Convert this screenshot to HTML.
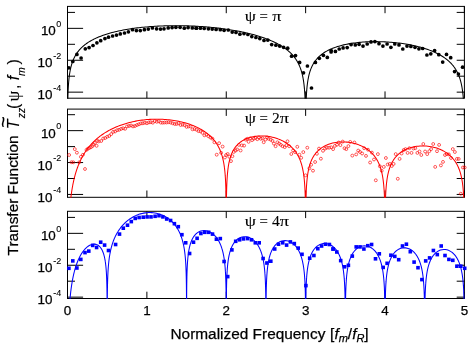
<!DOCTYPE html>
<html><head><meta charset="utf-8"><style>
html,body{margin:0;padding:0;background:#fff}
body{width:471px;height:344px;position:relative;overflow:hidden}
text{font-family:"Liberation Sans",sans-serif;fill:#000;stroke:#000;stroke-width:0.25px}
.tl{font-size:13.4px}
.sup{font-size:9px;stroke-width:0.1px}
.ax{font-size:15.4px}
.mm{font-size:16px}
.mm text{stroke-width:0.12px}
.ti text{font-family:"Liberation Serif",serif;font-size:15.5px;stroke-width:0.12px}
</style></head><body>
<svg width="471" height="344" viewBox="0 0 471 344" style="position:absolute;left:0;top:0;will-change:transform">
<rect width="471" height="344" fill="#fff"/>
<clipPath id="c0"><rect x="67.00" y="6.40" width="397.90" height="92.30"/></clipPath>
<path d="M67.50 12.40 h7.5 M464.40 12.40 h-7.7 M67.50 28.35 h15.6 M464.40 28.35 h-7.7 M67.50 44.30 h7.5 M464.40 44.30 h-7.7 M67.50 60.25 h15.6 M464.40 60.25 h-7.7 M67.50 76.20 h7.5 M464.40 76.20 h-7.7 M67.50 92.15 h15.6 M464.40 92.15 h-7.7 M67.50 6.40 v6.8 M67.50 98.20 v-6.8 M146.88 6.40 v6.8 M146.88 98.20 v-6.8 M226.26 6.40 v6.8 M226.26 98.20 v-6.8 M305.64 6.40 v6.8 M305.64 98.20 v-6.8 M385.02 6.40 v6.8 M385.02 98.20 v-6.8 M464.40 6.40 v6.8 M464.40 98.20 v-6.8" stroke="#000" stroke-width="1" fill="none"/>
<rect x="67.50" y="6.40" width="396.90" height="91.80" fill="none" stroke="#000" stroke-width="1"/>
<path clip-path="url(#c0)" d="M67.50 102.20L67.70 102.20L67.75 102.20L67.76 102.20L67.77 102.20L67.77 102.14L67.78 101.83L67.79 101.53L67.80 100.94L67.81 100.37L67.82 99.83L67.83 99.31L67.85 98.80L67.86 98.32L67.87 97.85L67.88 97.39L67.90 96.95L67.91 96.53L67.92 96.11L67.93 95.71L67.95 95.32L67.96 94.94L67.97 94.57L67.98 94.21L68.00 93.86L68.01 93.52L68.02 93.18L68.03 92.86L68.05 92.54L68.06 92.23L68.07 91.92L68.10 91.33L68.12 90.77L68.14 90.23L68.17 89.70L68.19 89.20L68.22 88.71L68.24 88.24L68.27 87.79L68.29 87.35L68.32 86.92L68.34 86.51L68.37 86.11L68.39 85.72L68.42 85.34L68.44 84.97L68.47 84.61L68.49 84.26L68.52 83.92L68.54 83.58L68.57 83.26L68.59 82.94L68.62 82.63L68.64 82.32L68.69 81.73L68.74 81.17L68.79 80.62L68.84 80.10L68.89 79.60L68.94 79.11L68.99 78.64L69.04 78.19L69.09 77.75L69.14 77.32L69.19 76.91L69.24 76.51L69.29 76.12L69.34 75.74L69.39 75.37L69.43 75.01L69.48 74.66L69.53 74.31L69.58 73.98L69.63 73.65L69.68 73.34L69.73 73.03L69.78 72.72L69.88 72.13L69.98 71.57L70.08 71.02L70.18 70.50L70.28 70.00L70.38 69.51L70.48 69.04L70.58 68.59L70.68 68.15L70.77 67.72L70.87 67.31L70.97 66.91L71.07 66.52L71.17 66.14L71.27 65.77L71.37 65.41L71.47 65.06L71.57 64.72L71.67 64.38L71.77 64.06L71.87 63.74L71.97 63.43L72.06 63.13L72.26 62.54L72.46 61.97L72.66 61.43L72.86 60.91L73.06 60.41L73.26 59.92L73.45 59.45L73.65 59.00L73.85 58.56L74.05 58.14L74.25 57.72L74.45 57.32L74.64 56.93L74.84 56.56L75.04 56.19L75.24 55.83L75.44 55.48L75.64 55.14L75.83 54.81L76.03 54.48L76.23 54.17L76.43 53.86L76.63 53.56L77.03 52.97L77.42 52.41L77.82 51.87L78.22 51.35L78.61 50.85L79.01 50.37L79.41 49.90L79.80 49.45L80.20 49.02L80.60 48.60L80.99 48.19L81.39 47.79L81.79 47.41L82.19 47.04L82.58 46.67L82.98 46.32L83.38 45.98L83.77 45.64L84.17 45.31L84.57 44.99L84.96 44.68L85.36 44.38L85.76 44.08L86.55 43.51L87.34 42.96L88.14 42.43L88.93 41.92L89.73 41.44L90.52 40.97L91.31 40.52L92.11 40.09L92.90 39.67L93.70 39.26L94.49 38.87L95.28 38.49L96.08 38.12L96.87 37.77L97.66 37.42L98.46 37.09L99.25 36.76L100.05 36.45L100.84 36.14L102.43 35.55L104.01 35.00L105.60 34.47L107.19 33.97L108.78 33.49L110.37 33.04L111.95 32.61L113.54 32.20L115.13 31.80L116.72 31.43L118.30 31.08L119.89 30.74L121.48 30.41L123.07 30.10L124.65 29.81L126.24 29.52L127.83 29.26L129.42 29.00L131.00 28.76L132.59 28.52L134.18 28.30L135.77 28.09L137.35 27.89L138.94 27.70L140.53 27.52L142.12 27.35L143.70 27.19L145.29 27.04L146.88 26.90L148.47 26.76L150.06 26.64L151.64 26.52L153.23 26.41L154.82 26.31L156.41 26.21L157.99 26.13L159.58 26.05L161.17 25.98L162.76 25.92L164.34 25.86L165.93 25.81L167.52 25.77L169.11 25.74L170.69 25.71L172.28 25.69L173.87 25.68L175.46 25.67L177.04 25.68L178.63 25.68L180.22 25.70L181.81 25.72L183.39 25.75L184.98 25.78L186.57 25.82L188.16 25.87L189.75 25.93L191.33 25.99L192.92 26.06L194.51 26.13L196.10 26.22L197.68 26.31L199.27 26.40L200.86 26.51L202.45 26.62L204.03 26.73L205.62 26.86L207.21 26.99L208.80 27.13L210.38 27.27L211.97 27.43L213.56 27.59L215.15 27.76L216.73 27.93L218.32 28.12L219.91 28.31L221.50 28.51L223.08 28.72L224.67 28.94L226.26 29.17L227.85 29.40L229.44 29.65L231.02 29.90L232.61 30.16L234.20 30.44L235.79 30.72L237.37 31.01L238.96 31.32L240.55 31.63L242.14 31.96L243.72 32.30L245.31 32.65L246.90 33.01L248.49 33.39L250.07 33.78L251.66 34.19L253.25 34.61L254.84 35.05L256.42 35.50L258.01 35.97L259.60 36.46L261.19 36.97L262.77 37.50L264.36 38.05L265.95 38.63L266.74 38.93L267.54 39.23L268.33 39.54L269.13 39.86L269.92 40.18L270.71 40.52L271.51 40.86L272.30 41.21L273.09 41.56L273.89 41.93L274.68 42.31L275.48 42.69L276.27 43.09L277.06 43.50L277.86 43.91L278.65 44.35L279.44 44.79L280.24 45.25L281.03 45.72L281.83 46.21L282.62 46.71L283.41 47.23L284.21 47.77L285.00 48.33L285.79 48.91L286.19 49.20L286.59 49.51L286.99 49.82L287.38 50.14L287.78 50.46L288.18 50.79L288.57 51.13L288.97 51.48L289.37 51.83L289.76 52.19L290.16 52.56L290.56 52.94L290.95 53.33L291.35 53.74L291.75 54.15L292.15 54.57L292.54 55.01L292.94 55.45L293.34 55.92L293.73 56.39L294.13 56.89L294.53 57.39L294.92 57.92L295.32 58.47L295.72 59.03L296.11 59.62L296.31 59.93L296.51 60.24L296.71 60.55L296.91 60.88L297.11 61.21L297.31 61.55L297.50 61.89L297.70 62.25L297.90 62.61L298.10 62.98L298.30 63.36L298.50 63.76L298.69 64.16L298.89 64.57L299.09 65.00L299.29 65.44L299.49 65.89L299.69 66.36L299.88 66.84L300.08 67.34L300.28 67.86L300.48 68.39L300.68 68.95L300.88 69.53L300.98 69.83L301.08 70.13L301.17 70.44L301.27 70.76L301.37 71.08L301.47 71.42L301.57 71.76L301.67 72.11L301.77 72.46L301.87 72.83L301.97 73.21L302.07 73.59L302.17 73.99L302.27 74.40L302.37 74.82L302.46 75.25L302.56 75.70L302.66 76.16L302.76 76.64L302.86 77.13L302.96 77.64L303.06 78.17L303.16 78.72L303.26 79.29L303.36 79.89L303.41 80.20L303.46 80.51L303.51 80.83L303.56 81.16L303.61 81.50L303.66 81.84L303.71 82.20L303.75 82.56L303.80 82.94L303.85 83.32L303.90 83.71L303.95 84.12L304.00 84.53L304.05 84.96L304.10 85.41L304.15 85.87L304.20 86.34L304.25 86.83L304.30 87.34L304.35 87.86L304.40 88.41L304.45 88.98L304.50 89.57L304.52 89.88L304.55 90.19L304.57 90.51L304.60 90.84L304.62 91.17L304.65 91.52L304.67 91.87L304.70 92.23L304.72 92.60L304.75 92.98L304.77 93.38L304.80 93.78L304.82 94.20L304.85 94.62L304.87 95.07L304.90 95.52L304.92 95.99L304.95 96.48L304.97 96.99L305.00 97.51L305.02 98.06L305.04 98.62L305.07 99.21L305.08 99.52L305.09 99.83L305.11 100.15L305.12 100.48L305.13 100.81L305.14 101.16L305.16 101.51L305.17 101.87L305.18 102.20L305.19 102.20L305.24 102.20L305.64 102.20L306.04 102.20L306.09 102.20L306.10 102.20L306.11 101.94L306.12 101.58L306.14 101.23L306.15 100.89L306.16 100.55L306.17 100.23L306.19 99.91L306.20 99.60L306.21 99.30L306.24 98.71L306.26 98.15L306.28 97.60L306.31 97.08L306.33 96.58L306.36 96.10L306.38 95.63L306.41 95.18L306.43 94.74L306.46 94.31L306.48 93.90L306.51 93.50L306.53 93.11L306.56 92.74L306.58 92.37L306.61 92.01L306.63 91.66L306.66 91.32L306.68 90.99L306.71 90.67L306.73 90.35L306.76 90.04L306.78 89.74L306.83 89.15L306.88 88.59L306.93 88.05L306.98 87.53L307.03 87.03L307.08 86.55L307.13 86.08L307.18 85.63L307.23 85.20L307.28 84.77L307.33 84.36L307.38 83.96L307.43 83.58L307.48 83.20L307.53 82.84L307.57 82.48L307.62 82.13L307.67 81.80L307.72 81.47L307.77 81.14L307.82 80.83L307.87 80.52L307.92 80.22L308.02 79.64L308.12 79.08L308.22 78.54L308.32 78.03L308.42 77.53L308.52 77.05L308.62 76.59L308.72 76.15L308.82 75.71L308.91 75.29L309.01 74.89L309.11 74.49L309.21 74.11L309.31 73.74L309.41 73.38L309.51 73.03L309.61 72.68L309.71 72.35L309.81 72.02L309.91 71.70L310.01 71.39L310.11 71.09L310.20 70.79L310.40 70.22L310.60 69.67L310.80 69.14L311.00 68.64L311.20 68.15L311.40 67.68L311.59 67.22L311.79 66.79L311.99 66.36L312.19 65.95L312.39 65.55L312.59 65.17L312.78 64.80L312.98 64.43L313.18 64.08L313.38 63.74L313.58 63.40L313.78 63.08L313.97 62.76L314.17 62.45L314.37 62.15L314.77 61.57L315.17 61.01L315.56 60.48L315.96 59.97L316.36 59.48L316.75 59.01L317.15 58.56L317.55 58.13L317.94 57.71L318.34 57.31L318.74 56.91L319.13 56.54L319.53 56.17L319.93 55.82L320.33 55.48L320.72 55.14L321.12 54.82L321.52 54.51L322.31 53.91L323.10 53.34L323.90 52.80L324.69 52.29L325.49 51.81L326.28 51.34L327.07 50.90L327.87 50.48L328.66 50.08L329.45 49.69L330.25 49.33L331.04 48.97L331.84 48.63L332.63 48.31L333.42 48.00L334.22 47.70L335.80 47.13L337.39 46.61L338.98 46.13L340.57 45.68L342.15 45.27L343.74 44.88L345.33 44.53L346.92 44.20L348.51 43.89L350.09 43.61L351.68 43.35L353.27 43.12L354.86 42.90L356.44 42.70L358.03 42.53L359.62 42.37L361.21 42.22L362.79 42.10L364.38 41.98L365.97 41.89L367.56 41.81L369.14 41.74L370.73 41.69L372.32 41.66L373.91 41.64L375.49 41.63L377.08 41.63L378.67 41.65L380.26 41.68L381.84 41.73L383.43 41.79L385.02 41.86L386.61 41.95L388.20 42.04L389.78 42.16L391.37 42.28L392.96 42.42L394.55 42.57L396.13 42.74L397.72 42.92L399.31 43.11L400.90 43.32L402.48 43.54L404.07 43.78L405.66 44.03L407.25 44.30L408.83 44.58L410.42 44.89L412.01 45.21L413.60 45.54L415.18 45.90L416.77 46.28L418.36 46.67L419.95 47.09L421.53 47.53L423.12 48.00L424.71 48.49L426.30 49.00L427.89 49.55L429.47 50.13L430.27 50.43L431.06 50.74L431.85 51.05L432.65 51.38L433.44 51.72L434.24 52.07L435.03 52.43L435.82 52.80L436.62 53.18L437.41 53.57L438.20 53.98L439.00 54.40L439.79 54.84L440.59 55.29L441.38 55.75L442.17 56.24L442.97 56.74L443.76 57.27L444.55 57.81L445.35 58.38L446.14 58.98L446.54 59.29L446.94 59.60L447.33 59.92L447.73 60.25L448.13 60.59L448.52 60.93L448.92 61.29L449.32 61.65L449.71 62.03L450.11 62.41L450.51 62.81L450.91 63.22L451.30 63.64L451.70 64.07L452.10 64.52L452.49 64.98L452.89 65.45L453.29 65.95L453.68 66.46L454.08 66.99L454.48 67.54L454.87 68.11L455.27 68.71L455.47 69.02L455.67 69.34L455.87 69.66L456.07 69.99L456.26 70.33L456.46 70.68L456.66 71.03L456.86 71.40L457.06 71.77L457.26 72.16L457.45 72.55L457.65 72.96L457.85 73.38L458.05 73.81L458.25 74.25L458.45 74.71L458.64 75.19L458.84 75.68L459.04 76.19L459.24 76.72L459.44 77.27L459.64 77.84L459.84 78.44L459.93 78.74L460.03 79.06L460.13 79.38L460.23 79.71L460.33 80.04L460.43 80.39L460.53 80.74L460.63 81.11L460.73 81.48L460.83 81.86L460.93 82.26L461.03 82.66L461.13 83.08L461.22 83.51L461.32 83.95L461.42 84.41L461.52 84.88L461.62 85.37L461.72 85.88L461.82 86.40L461.92 86.95L462.02 87.52L462.12 88.11L462.17 88.42L462.22 88.73L462.27 89.05L462.32 89.38L462.37 89.71L462.42 90.06L462.47 90.41L462.51 90.77L462.56 91.14L462.61 91.52L462.66 91.92L462.71 92.32L462.76 92.74L462.81 93.16L462.86 93.60L462.91 94.06L462.96 94.53L463.01 95.02L463.06 95.53L463.11 96.05L463.16 96.60L463.21 97.16L463.26 97.75L463.28 98.06L463.31 98.37L463.33 98.69L463.36 99.02L463.38 99.35L463.41 99.70L463.43 100.05L463.46 100.41L463.48 100.78L463.51 101.16L463.53 101.55L463.56 101.95L463.58 102.20L463.61 102.20L464.40 102.20" fill="none" stroke="#000" stroke-width="1.05" stroke-linejoin="round"/>
<circle cx="68.9" cy="67.8" r="1.85" fill="#000"/>
<circle cx="72.8" cy="61.5" r="1.85" fill="#000"/>
<circle cx="76.9" cy="54.4" r="1.85" fill="#000"/>
<circle cx="81.1" cy="58.0" r="1.85" fill="#000"/>
<circle cx="85.3" cy="48.8" r="1.85" fill="#000"/>
<circle cx="89.1" cy="47.6" r="1.85" fill="#000"/>
<circle cx="93.0" cy="45.5" r="1.85" fill="#000"/>
<circle cx="96.9" cy="42.8" r="1.85" fill="#000"/>
<circle cx="100.7" cy="40.7" r="1.85" fill="#000"/>
<circle cx="104.9" cy="38.6" r="1.85" fill="#000"/>
<circle cx="108.5" cy="37.2" r="1.85" fill="#000"/>
<circle cx="112.6" cy="36.0" r="1.85" fill="#000"/>
<circle cx="116.5" cy="35.1" r="1.85" fill="#000"/>
<circle cx="120.3" cy="33.9" r="1.85" fill="#000"/>
<circle cx="124.5" cy="33.0" r="1.85" fill="#000"/>
<circle cx="128.4" cy="31.8" r="1.85" fill="#000"/>
<circle cx="132.5" cy="29.7" r="1.85" fill="#000"/>
<circle cx="136.4" cy="30.6" r="1.85" fill="#000"/>
<circle cx="140.3" cy="30.6" r="1.85" fill="#000"/>
<circle cx="144.4" cy="29.7" r="1.85" fill="#000"/>
<circle cx="148.3" cy="29.1" r="1.85" fill="#000"/>
<circle cx="152.4" cy="27.9" r="1.85" fill="#000"/>
<circle cx="156.6" cy="28.8" r="1.85" fill="#000"/>
<circle cx="160.5" cy="29.1" r="1.85" fill="#000"/>
<circle cx="164.0" cy="28.8" r="1.85" fill="#000"/>
<circle cx="168.2" cy="27.9" r="1.85" fill="#000"/>
<circle cx="172.1" cy="27.6" r="1.85" fill="#000"/>
<circle cx="175.9" cy="27.3" r="1.85" fill="#000"/>
<circle cx="180.1" cy="27.3" r="1.85" fill="#000"/>
<circle cx="184.3" cy="28.2" r="1.85" fill="#000"/>
<circle cx="188.1" cy="27.6" r="1.85" fill="#000"/>
<circle cx="192.3" cy="27.9" r="1.85" fill="#000"/>
<circle cx="196.1" cy="28.2" r="1.85" fill="#000"/>
<circle cx="196.5" cy="28.2" r="1.85" fill="#000"/>
<circle cx="200.4" cy="28.2" r="1.85" fill="#000"/>
<circle cx="204.2" cy="28.5" r="1.85" fill="#000"/>
<circle cx="208.4" cy="28.8" r="1.85" fill="#000"/>
<circle cx="212.2" cy="29.1" r="1.85" fill="#000"/>
<circle cx="216.1" cy="29.4" r="1.85" fill="#000"/>
<circle cx="220.3" cy="29.7" r="1.85" fill="#000"/>
<circle cx="224.1" cy="30.3" r="1.85" fill="#000"/>
<circle cx="228.3" cy="30.0" r="1.85" fill="#000"/>
<circle cx="232.2" cy="32.1" r="1.85" fill="#000"/>
<circle cx="236.0" cy="32.4" r="1.85" fill="#000"/>
<circle cx="239.9" cy="34.2" r="1.85" fill="#000"/>
<circle cx="244.0" cy="33.6" r="1.85" fill="#000"/>
<circle cx="247.9" cy="34.5" r="1.85" fill="#000"/>
<circle cx="251.8" cy="36.6" r="1.85" fill="#000"/>
<circle cx="255.9" cy="37.5" r="1.85" fill="#000"/>
<circle cx="259.8" cy="38.6" r="1.85" fill="#000"/>
<circle cx="264.0" cy="40.4" r="1.85" fill="#000"/>
<circle cx="267.8" cy="40.1" r="1.85" fill="#000"/>
<circle cx="271.7" cy="44.6" r="1.85" fill="#000"/>
<circle cx="275.9" cy="45.2" r="1.85" fill="#000"/>
<circle cx="279.7" cy="46.1" r="1.85" fill="#000"/>
<circle cx="283.6" cy="47.3" r="1.85" fill="#000"/>
<circle cx="287.7" cy="48.2" r="1.85" fill="#000"/>
<circle cx="291.6" cy="56.2" r="1.85" fill="#000"/>
<circle cx="295.5" cy="55.6" r="1.85" fill="#000"/>
<circle cx="299.6" cy="62.4" r="1.85" fill="#000"/>
<circle cx="303.5" cy="72.8" r="1.85" fill="#000"/>
<circle cx="307.4" cy="66.0" r="1.85" fill="#000"/>
<circle cx="311.5" cy="88.0" r="1.85" fill="#000"/>
<circle cx="315.4" cy="62.4" r="1.85" fill="#000"/>
<circle cx="319.3" cy="58.3" r="1.85" fill="#000"/>
<circle cx="323.4" cy="55.3" r="1.85" fill="#000"/>
<circle cx="327.3" cy="57.4" r="1.85" fill="#000"/>
<circle cx="331.1" cy="52.0" r="1.85" fill="#000"/>
<circle cx="331.2" cy="50.5" r="1.85" fill="#000"/>
<circle cx="335.4" cy="51.4" r="1.85" fill="#000"/>
<circle cx="339.2" cy="49.0" r="1.85" fill="#000"/>
<circle cx="343.1" cy="47.9" r="1.85" fill="#000"/>
<circle cx="347.2" cy="47.6" r="1.85" fill="#000"/>
<circle cx="351.1" cy="44.6" r="1.85" fill="#000"/>
<circle cx="355.3" cy="44.9" r="1.85" fill="#000"/>
<circle cx="359.1" cy="44.3" r="1.85" fill="#000"/>
<circle cx="363.0" cy="46.1" r="1.85" fill="#000"/>
<circle cx="367.2" cy="44.0" r="1.85" fill="#000"/>
<circle cx="371.0" cy="41.9" r="1.85" fill="#000"/>
<circle cx="374.9" cy="41.6" r="1.85" fill="#000"/>
<circle cx="379.0" cy="43.7" r="1.85" fill="#000"/>
<circle cx="382.9" cy="46.1" r="1.85" fill="#000"/>
<circle cx="387.1" cy="44.0" r="1.85" fill="#000"/>
<circle cx="390.9" cy="47.3" r="1.85" fill="#000"/>
<circle cx="394.8" cy="44.0" r="1.85" fill="#000"/>
<circle cx="399.0" cy="44.9" r="1.85" fill="#000"/>
<circle cx="402.8" cy="49.0" r="1.85" fill="#000"/>
<circle cx="407.0" cy="46.1" r="1.85" fill="#000"/>
<circle cx="410.9" cy="46.4" r="1.85" fill="#000"/>
<circle cx="415.0" cy="47.3" r="1.85" fill="#000"/>
<circle cx="418.9" cy="48.8" r="1.85" fill="#000"/>
<circle cx="422.7" cy="48.5" r="1.85" fill="#000"/>
<circle cx="426.9" cy="55.0" r="1.85" fill="#000"/>
<circle cx="430.8" cy="53.8" r="1.85" fill="#000"/>
<circle cx="434.6" cy="50.5" r="1.85" fill="#000"/>
<circle cx="438.8" cy="54.7" r="1.85" fill="#000"/>
<circle cx="442.7" cy="62.1" r="1.85" fill="#000"/>
<circle cx="446.5" cy="54.4" r="1.85" fill="#000"/>
<circle cx="450.7" cy="57.7" r="1.85" fill="#000"/>
<circle cx="454.6" cy="71.6" r="1.85" fill="#000"/>
<circle cx="458.4" cy="74.0" r="1.85" fill="#000"/>
<circle cx="462.6" cy="67.2" r="1.85" fill="#000"/>
<text x="55.8" y="35.40" text-anchor="end" class="tl">10</text>
<text x="61.3" y="26.95" text-anchor="end" class="sup">0</text>
<text x="52.4" y="67.30" text-anchor="end" class="tl">10</text>
<text x="61.3" y="58.85" text-anchor="end" class="sup">-2</text>
<text x="52.4" y="99.20" text-anchor="end" class="tl">10</text>
<text x="61.3" y="90.75" text-anchor="end" class="sup">-4</text>
<g class="ti">
<text x="244.7" y="20.6" textLength="11.2" lengthAdjust="spacingAndGlyphs">ψ</text>
<text x="259.5" y="20.6" textLength="8.4" lengthAdjust="spacingAndGlyphs">=</text>
<text x="272.2" y="20.6" textLength="9.2" lengthAdjust="spacingAndGlyphs">π</text>
</g>
<clipPath id="c1"><rect x="67.00" y="109.10" width="397.90" height="88.70"/></clipPath>
<path d="M67.50 114.70 h7.5 M464.40 114.70 h-7.7 M67.50 130.65 h15.6 M464.40 130.65 h-7.7 M67.50 146.60 h7.5 M464.40 146.60 h-7.7 M67.50 162.55 h15.6 M464.40 162.55 h-7.7 M67.50 178.50 h7.5 M464.40 178.50 h-7.7 M67.50 194.45 h15.6 M464.40 194.45 h-7.7 M67.50 109.10 v6.8 M67.50 197.30 v-6.8 M146.88 109.10 v6.8 M146.88 197.30 v-6.8 M226.26 109.10 v6.8 M226.26 197.30 v-6.8 M305.64 109.10 v6.8 M305.64 197.30 v-6.8 M385.02 109.10 v6.8 M385.02 197.30 v-6.8 M464.40 109.10 v6.8 M464.40 197.30 v-6.8" stroke="#000" stroke-width="1" fill="none"/>
<rect x="67.50" y="109.10" width="396.90" height="88.20" fill="none" stroke="#000" stroke-width="1"/>
<path clip-path="url(#c1)" d="M67.50 201.30L69.09 201.30L69.88 201.30L70.28 201.30L70.38 201.30L70.43 201.30L70.48 200.98L70.53 200.52L70.58 200.07L70.63 199.63L70.68 199.19L70.72 198.76L70.77 198.34L70.82 197.92L70.87 197.51L70.92 197.11L70.97 196.71L71.02 196.32L71.07 195.93L71.12 195.55L71.17 195.17L71.22 194.80L71.27 194.44L71.32 194.07L71.37 193.72L71.42 193.37L71.47 193.02L71.52 192.67L71.57 192.33L71.62 192.00L71.67 191.67L71.72 191.34L71.77 191.02L71.82 190.70L71.87 190.38L71.92 190.07L71.97 189.76L72.01 189.45L72.06 189.15L72.16 188.56L72.26 187.98L72.36 187.41L72.46 186.85L72.56 186.30L72.66 185.76L72.76 185.24L72.86 184.72L72.96 184.21L73.06 183.72L73.16 183.23L73.26 182.75L73.35 182.27L73.45 181.81L73.55 181.35L73.65 180.91L73.75 180.46L73.85 180.03L73.95 179.60L74.05 179.18L74.15 178.77L74.25 178.36L74.35 177.95L74.45 177.56L74.54 177.17L74.64 176.78L74.74 176.40L74.84 176.03L74.94 175.66L75.04 175.29L75.14 174.93L75.24 174.58L75.34 174.23L75.44 173.88L75.54 173.54L75.64 173.20L75.74 172.87L75.83 172.54L75.93 172.21L76.03 171.89L76.13 171.57L76.23 171.26L76.33 170.95L76.43 170.64L76.53 170.34L76.63 170.04L76.83 169.44L77.03 168.87L77.22 168.30L77.42 167.75L77.62 167.20L77.82 166.67L78.02 166.15L78.22 165.64L78.41 165.13L78.61 164.64L78.81 164.16L79.01 163.68L79.21 163.22L79.41 162.76L79.61 162.30L79.80 161.86L80.00 161.42L80.20 161.00L80.40 160.57L80.60 160.16L80.80 159.75L80.99 159.35L81.19 158.95L81.39 158.56L81.59 158.17L81.79 157.79L81.99 157.42L82.19 157.05L82.38 156.69L82.58 156.33L82.78 155.97L82.98 155.63L83.18 155.28L83.38 154.94L83.57 154.61L83.77 154.28L83.97 153.95L84.17 153.63L84.37 153.31L84.57 152.99L84.77 152.68L84.96 152.38L85.16 152.07L85.36 151.77L85.76 151.19L86.15 150.61L86.55 150.05L86.95 149.50L87.34 148.96L87.74 148.44L88.14 147.92L88.54 147.42L88.93 146.92L89.33 146.44L89.73 145.96L90.12 145.50L90.52 145.04L90.92 144.60L91.31 144.16L91.71 143.73L92.11 143.30L92.50 142.89L92.90 142.48L93.30 142.08L93.70 141.69L94.09 141.30L94.49 140.92L94.89 140.55L95.28 140.18L95.68 139.82L96.08 139.47L96.47 139.12L96.87 138.77L97.27 138.43L97.66 138.10L98.06 137.77L98.46 137.45L98.86 137.13L99.25 136.82L99.65 136.52L100.05 136.21L100.84 135.62L101.63 135.05L102.43 134.49L103.22 133.95L104.01 133.42L104.81 132.91L105.60 132.42L106.40 131.93L107.19 131.47L107.98 131.01L108.78 130.57L109.57 130.14L110.37 129.72L111.16 129.31L111.95 128.92L112.75 128.53L113.54 128.16L114.33 127.79L115.13 127.44L115.92 127.09L116.72 126.76L117.51 126.43L118.30 126.12L119.10 125.81L119.89 125.51L121.48 124.94L123.07 124.40L124.65 123.89L126.24 123.41L127.83 122.96L129.42 122.54L131.00 122.15L132.59 121.78L134.18 121.44L135.77 121.13L137.35 120.84L138.94 120.57L140.53 120.33L142.12 120.11L143.70 119.91L145.29 119.74L146.88 119.59L148.47 119.46L150.06 119.36L151.64 119.28L153.23 119.22L154.82 119.18L156.41 119.16L157.99 119.16L159.58 119.19L161.17 119.24L162.76 119.31L164.34 119.40L165.93 119.52L167.52 119.66L169.11 119.82L170.69 120.01L172.28 120.22L173.87 120.46L175.46 120.72L177.04 121.00L178.63 121.32L180.22 121.66L181.81 122.03L183.39 122.43L184.98 122.86L186.57 123.32L188.16 123.82L189.75 124.35L191.33 124.93L192.13 125.23L192.92 125.54L193.71 125.86L194.51 126.19L195.30 126.54L196.10 126.89L196.89 127.26L197.68 127.65L198.48 128.04L199.27 128.45L200.06 128.88L200.86 129.32L201.65 129.78L202.45 130.25L203.24 130.75L204.03 131.26L204.83 131.79L205.62 132.35L206.41 132.93L206.81 133.23L207.21 133.53L207.61 133.84L208.00 134.16L208.40 134.49L208.80 134.82L209.19 135.16L209.59 135.51L209.99 135.87L210.38 136.24L210.78 136.62L211.18 137.00L211.57 137.40L211.97 137.81L212.37 138.23L212.77 138.66L213.16 139.11L213.56 139.56L213.96 140.04L214.35 140.52L214.75 141.03L215.15 141.55L215.54 142.09L215.94 142.65L216.34 143.23L216.54 143.53L216.73 143.83L216.93 144.14L217.13 144.46L217.33 144.78L217.53 145.11L217.73 145.45L217.93 145.80L218.12 146.15L218.32 146.52L218.52 146.89L218.72 147.27L218.92 147.66L219.12 148.06L219.31 148.47L219.51 148.90L219.71 149.33L219.91 149.78L220.11 150.24L220.31 150.72L220.50 151.21L220.70 151.72L220.90 152.25L221.10 152.79L221.30 153.36L221.50 153.95L221.60 154.25L221.70 154.56L221.79 154.88L221.89 155.20L221.99 155.54L222.09 155.87L222.19 156.22L222.29 156.57L222.39 156.94L222.49 157.31L222.59 157.69L222.69 158.08L222.79 158.49L222.89 158.90L222.99 159.33L223.08 159.77L223.18 160.22L223.28 160.69L223.38 161.17L223.48 161.67L223.58 162.18L223.68 162.72L223.78 163.28L223.88 163.86L223.93 164.15L223.98 164.46L224.03 164.77L224.08 165.09L224.13 165.41L224.18 165.75L224.23 166.09L224.28 166.43L224.33 166.79L224.37 167.16L224.42 167.53L224.47 167.92L224.52 168.32L224.57 168.73L224.62 169.15L224.67 169.58L224.72 170.03L224.77 170.49L224.82 170.96L224.87 171.46L224.92 171.97L224.97 172.50L225.02 173.05L225.07 173.62L225.12 174.22L225.14 174.52L225.17 174.84L225.19 175.16L225.22 175.49L225.24 175.83L225.27 176.17L225.29 176.53L225.32 176.89L225.34 177.26L225.37 177.65L225.39 178.04L225.42 178.45L225.44 178.86L225.47 179.29L225.49 179.74L225.52 180.19L225.54 180.67L225.57 181.16L225.59 181.66L225.62 182.19L225.64 182.74L225.66 183.31L225.69 183.90L225.70 184.21L225.71 184.52L225.73 184.84L225.74 185.17L225.75 185.50L225.76 185.85L225.78 186.20L225.79 186.56L225.80 186.93L225.81 187.31L225.83 187.71L225.84 188.11L225.85 188.52L225.86 188.95L225.88 189.39L225.89 189.85L225.90 190.32L225.91 190.81L225.93 191.32L225.94 191.84L225.95 192.38L225.96 192.95L225.97 193.54L225.98 193.85L225.99 194.16L225.99 194.48L226.00 194.81L226.01 195.14L226.01 195.49L226.02 195.84L226.02 196.20L226.03 196.57L226.04 196.95L226.04 197.34L226.05 197.74L226.06 198.16L226.06 198.58L226.07 199.02L226.07 199.48L226.08 199.95L226.09 200.44L226.09 200.94L226.10 201.30L226.11 201.30L226.16 201.30L226.26 201.30L226.36 201.30L226.41 201.30L226.42 201.30L226.43 200.99L226.43 200.49L226.44 200.00L226.45 199.53L226.45 199.08L226.46 198.64L226.46 198.22L226.47 197.80L226.48 197.40L226.48 197.01L226.49 196.63L226.50 196.27L226.50 195.91L226.51 195.56L226.51 195.22L226.52 194.88L226.53 194.56L226.53 194.24L226.54 193.93L226.55 193.63L226.56 193.04L226.57 192.48L226.58 191.93L226.59 191.41L226.61 190.91L226.62 190.43L226.63 189.96L226.64 189.51L226.66 189.07L226.67 188.64L226.68 188.23L226.69 187.83L226.71 187.44L226.72 187.07L226.73 186.70L226.74 186.34L226.76 185.99L226.77 185.65L226.78 185.32L226.79 184.99L226.81 184.68L226.82 184.37L226.83 184.07L226.86 183.48L226.88 182.92L226.90 182.38L226.93 181.86L226.95 181.36L226.98 180.88L227.00 180.41L227.03 179.96L227.05 179.52L227.08 179.10L227.10 178.69L227.13 178.29L227.15 177.91L227.18 177.53L227.20 177.17L227.23 176.81L227.25 176.46L227.28 176.12L227.30 175.79L227.33 175.47L227.35 175.16L227.38 174.85L227.40 174.55L227.45 173.97L227.50 173.41L227.55 172.87L227.60 172.36L227.65 171.86L227.70 171.38L227.75 170.92L227.80 170.47L227.85 170.04L227.90 169.62L227.95 169.22L228.00 168.82L228.05 168.44L228.10 168.07L228.15 167.71L228.19 167.35L228.24 167.01L228.29 166.68L228.34 166.35L228.39 166.03L228.44 165.72L228.49 165.42L228.54 165.12L228.64 164.55L228.74 164.00L228.84 163.47L228.94 162.96L229.04 162.48L229.14 162.01L229.24 161.55L229.34 161.11L229.44 160.69L229.53 160.28L229.63 159.88L229.73 159.50L229.83 159.12L229.93 158.76L230.03 158.41L230.13 158.06L230.23 157.73L230.33 157.40L230.43 157.09L230.53 156.78L230.63 156.48L230.82 155.89L231.02 155.34L231.22 154.81L231.42 154.30L231.62 153.81L231.82 153.34L232.02 152.89L232.21 152.45L232.41 152.04L232.61 151.63L232.81 151.24L233.01 150.86L233.21 150.50L233.40 150.15L233.60 149.80L233.80 149.47L234.00 149.15L234.20 148.83L234.40 148.53L234.59 148.23L234.99 147.67L235.39 147.13L235.79 146.62L236.18 146.13L236.58 145.67L236.98 145.23L237.37 144.80L237.77 144.40L238.17 144.02L238.56 143.65L238.96 143.29L239.36 142.95L239.75 142.63L240.15 142.32L240.55 142.02L241.34 141.45L242.14 140.93L242.93 140.44L243.72 139.99L244.52 139.58L245.31 139.19L246.10 138.84L246.90 138.51L248.49 137.92L250.07 137.42L251.66 137.00L253.25 136.66L254.84 136.39L256.42 136.18L258.01 136.03L259.60 135.94L261.19 135.91L262.77 135.93L264.36 136.00L265.95 136.13L267.54 136.31L269.13 136.54L270.71 136.83L272.30 137.17L273.89 137.56L275.48 138.02L277.06 138.54L278.65 139.12L279.44 139.44L280.24 139.77L281.03 140.13L281.83 140.50L282.62 140.90L283.41 141.31L284.21 141.75L285.00 142.21L285.79 142.70L286.59 143.21L287.38 143.76L288.18 144.33L288.57 144.63L288.97 144.94L289.37 145.26L289.76 145.58L290.16 145.92L290.56 146.27L290.95 146.63L291.35 146.99L291.75 147.37L292.15 147.77L292.54 148.17L292.94 148.59L293.34 149.03L293.73 149.48L294.13 149.94L294.53 150.43L294.92 150.93L295.32 151.46L295.72 152.00L296.11 152.57L296.51 153.16L296.71 153.47L296.91 153.78L297.11 154.10L297.31 154.43L297.50 154.77L297.70 155.11L297.90 155.47L298.10 155.83L298.30 156.21L298.50 156.59L298.69 156.99L298.89 157.39L299.09 157.81L299.29 158.24L299.49 158.69L299.69 159.15L299.88 159.63L300.08 160.12L300.28 160.63L300.48 161.16L300.68 161.71L300.88 162.29L301.08 162.88L301.17 163.19L301.27 163.51L301.37 163.83L301.47 164.16L301.57 164.50L301.67 164.85L301.77 165.20L301.87 165.57L301.97 165.94L302.07 166.32L302.17 166.72L302.27 167.13L302.37 167.54L302.46 167.98L302.56 168.42L302.66 168.88L302.76 169.35L302.86 169.85L302.96 170.36L303.06 170.88L303.16 171.43L303.26 172.00L303.36 172.60L303.41 172.91L303.46 173.22L303.51 173.54L303.56 173.87L303.61 174.21L303.66 174.55L303.71 174.91L303.75 175.27L303.80 175.64L303.85 176.02L303.90 176.42L303.95 176.82L304.00 177.24L304.05 177.67L304.10 178.11L304.15 178.57L304.20 179.04L304.25 179.53L304.30 180.04L304.35 180.56L304.40 181.11L304.45 181.68L304.50 182.27L304.52 182.58L304.55 182.89L304.57 183.21L304.60 183.54L304.62 183.87L304.65 184.22L304.67 184.57L304.70 184.93L304.72 185.30L304.75 185.68L304.77 186.08L304.80 186.48L304.82 186.89L304.85 187.32L304.87 187.76L304.90 188.22L304.92 188.69L304.95 189.18L304.97 189.68L305.00 190.21L305.02 190.75L305.04 191.32L305.07 191.91L305.08 192.22L305.09 192.53L305.11 192.85L305.12 193.18L305.13 193.51L305.14 193.85L305.16 194.21L305.17 194.57L305.18 194.94L305.19 195.32L305.21 195.71L305.22 196.11L305.23 196.53L305.24 196.95L305.26 197.39L305.27 197.85L305.28 198.32L305.29 198.81L305.31 199.31L305.32 199.83L305.33 200.38L305.34 200.94L305.35 201.30L305.37 201.30L305.39 201.30L305.44 201.30L305.64 201.30L305.84 201.30L305.89 201.30L305.91 201.30L305.93 201.30L305.94 200.99L305.95 200.42L305.96 199.88L305.97 199.36L305.99 198.86L306.00 198.37L306.01 197.90L306.02 197.45L306.04 197.01L306.05 196.58L306.06 196.17L306.07 195.77L306.09 195.38L306.10 195.00L306.11 194.63L306.12 194.28L306.14 193.93L306.15 193.59L306.16 193.25L306.17 192.93L306.19 192.61L306.20 192.30L306.21 192.00L306.24 191.41L306.26 190.84L306.28 190.30L306.31 189.78L306.33 189.28L306.36 188.80L306.38 188.33L306.41 187.88L306.43 187.44L306.46 187.01L306.48 186.60L306.51 186.20L306.53 185.81L306.56 185.44L306.58 185.07L306.61 184.71L306.63 184.36L306.66 184.02L306.68 183.69L306.71 183.37L306.73 183.05L306.76 182.74L306.78 182.44L306.83 181.85L306.88 181.29L306.93 180.75L306.98 180.23L307.03 179.73L307.08 179.25L307.13 178.78L307.18 178.33L307.23 177.90L307.28 177.48L307.33 177.07L307.38 176.67L307.43 176.28L307.48 175.91L307.53 175.54L307.57 175.19L307.62 174.84L307.67 174.50L307.72 174.17L307.77 173.85L307.82 173.54L307.87 173.23L307.92 172.93L308.02 172.35L308.12 171.79L308.22 171.26L308.32 170.75L308.42 170.25L308.52 169.77L308.62 169.31L308.72 168.87L308.82 168.44L308.91 168.02L309.01 167.62L309.11 167.22L309.21 166.84L309.31 166.47L309.41 166.11L309.51 165.76L309.61 165.42L309.71 165.09L309.81 164.77L309.91 164.45L310.01 164.14L310.20 163.55L310.40 162.98L310.60 162.43L310.80 161.91L311.00 161.41L311.20 160.93L311.40 160.46L311.59 160.02L311.79 159.59L311.99 159.17L312.19 158.77L312.39 158.38L312.59 158.00L312.78 157.63L312.98 157.28L313.18 156.93L313.38 156.60L313.58 156.27L313.78 155.95L313.97 155.65L314.37 155.05L314.77 154.49L315.17 153.96L315.56 153.45L315.96 152.96L316.36 152.49L316.75 152.05L317.15 151.62L317.55 151.21L317.94 150.82L318.34 150.44L318.74 150.08L319.13 149.73L319.53 149.40L319.93 149.08L320.33 148.77L320.72 148.47L321.52 147.90L322.31 147.37L323.10 146.88L323.90 146.43L324.69 146.00L325.49 145.60L326.28 145.23L327.07 144.89L327.87 144.57L329.45 143.99L331.04 143.50L332.63 143.08L334.22 142.74L335.80 142.46L337.39 142.24L338.98 142.09L340.57 141.99L342.15 141.95L343.74 141.96L345.33 142.02L346.92 142.14L348.51 142.32L350.09 142.55L351.68 142.83L353.27 143.18L354.86 143.58L356.44 144.05L358.03 144.58L358.82 144.87L359.62 145.18L360.41 145.51L361.21 145.86L362.00 146.23L362.79 146.62L363.59 147.04L364.38 147.48L365.17 147.94L365.97 148.43L366.76 148.95L367.56 149.50L368.35 150.09L368.75 150.40L369.14 150.71L369.54 151.04L369.94 151.37L370.33 151.72L370.73 152.08L371.13 152.45L371.53 152.83L371.92 153.22L372.32 153.63L372.72 154.06L373.11 154.50L373.51 154.95L373.91 155.43L374.30 155.92L374.70 156.43L375.10 156.97L375.49 157.52L375.89 158.11L376.09 158.41L376.29 158.72L376.49 159.03L376.69 159.36L376.88 159.69L377.08 160.03L377.28 160.38L377.48 160.74L377.68 161.11L377.88 161.49L378.07 161.88L378.27 162.28L378.47 162.69L378.67 163.12L378.87 163.56L379.07 164.02L379.26 164.49L379.46 164.98L379.66 165.48L379.86 166.01L380.06 166.55L380.26 167.12L380.46 167.72L380.55 168.02L380.65 168.33L380.75 168.66L380.85 168.98L380.95 169.32L381.05 169.66L381.15 170.02L381.25 170.38L381.35 170.75L381.45 171.13L381.55 171.52L381.65 171.93L381.75 172.34L381.84 172.77L381.94 173.22L382.04 173.67L382.14 174.15L382.24 174.64L382.34 175.14L382.44 175.67L382.54 176.21L382.64 176.78L382.74 177.38L382.79 177.68L382.84 178.00L382.89 178.32L382.94 178.64L382.99 178.98L383.04 179.32L383.09 179.68L383.13 180.04L383.18 180.41L383.23 180.79L383.28 181.18L383.33 181.58L383.38 182.00L383.43 182.43L383.48 182.87L383.53 183.33L383.58 183.80L383.63 184.29L383.68 184.79L383.73 185.32L383.78 185.86L383.83 186.43L383.88 187.02L383.90 187.33L383.93 187.64L383.95 187.96L383.98 188.29L384.00 188.62L384.03 188.96L384.05 189.32L384.08 189.68L384.10 190.05L384.13 190.43L384.15 190.82L384.18 191.22L384.20 191.64L384.23 192.06L384.25 192.50L384.28 192.96L384.30 193.43L384.33 193.92L384.35 194.42L384.38 194.95L384.40 195.49L384.42 196.06L384.45 196.65L384.46 196.95L384.47 197.27L384.49 197.59L384.50 197.91L384.51 198.25L384.52 198.59L384.54 198.94L384.55 199.30L384.56 199.67L384.57 200.05L384.59 200.44L384.60 200.84L384.61 201.26L384.62 201.30L385.02 201.30L385.42 201.30L385.43 201.30L385.44 200.89L385.45 200.48L385.47 200.09L385.48 199.72L385.49 199.35L385.50 198.99L385.52 198.64L385.53 198.30L385.54 197.96L385.55 197.64L385.57 197.32L385.58 197.01L385.59 196.71L385.62 196.12L385.64 195.55L385.66 195.01L385.69 194.49L385.71 193.99L385.74 193.50L385.76 193.03L385.79 192.58L385.81 192.14L385.84 191.72L385.86 191.31L385.89 190.91L385.91 190.52L385.94 190.14L385.96 189.77L385.99 189.41L386.01 189.06L386.04 188.72L386.06 188.39L386.09 188.06L386.11 187.75L386.14 187.44L386.16 187.13L386.21 186.55L386.26 185.98L386.31 185.44L386.36 184.92L386.41 184.42L386.46 183.94L386.51 183.47L386.56 183.02L386.61 182.59L386.66 182.16L386.71 181.75L386.76 181.35L386.81 180.97L386.86 180.59L386.91 180.22L386.95 179.87L387.00 179.52L387.05 179.18L387.10 178.85L387.15 178.53L387.20 178.21L387.25 177.90L387.30 177.60L387.40 177.02L387.50 176.46L387.60 175.92L387.70 175.41L387.80 174.91L387.90 174.43L388.00 173.97L388.10 173.52L388.20 173.09L388.29 172.67L388.39 172.26L388.49 171.87L388.59 171.49L388.69 171.11L388.79 170.75L388.89 170.40L388.99 170.06L389.09 169.72L389.19 169.40L389.29 169.08L389.39 168.77L389.58 168.17L389.78 167.59L389.98 167.04L390.18 166.52L390.38 166.01L390.58 165.53L390.78 165.06L390.97 164.61L391.17 164.17L391.37 163.75L391.57 163.34L391.77 162.95L391.97 162.56L392.16 162.19L392.36 161.83L392.56 161.49L392.76 161.15L392.96 160.82L393.16 160.50L393.35 160.18L393.55 159.88L393.75 159.58L394.15 159.01L394.55 158.47L394.94 157.95L395.34 157.45L395.74 156.98L396.13 156.53L396.53 156.09L396.93 155.68L397.32 155.28L397.72 154.89L398.12 154.52L398.51 154.16L398.91 153.82L399.31 153.49L399.71 153.17L400.10 152.87L400.90 152.28L401.69 151.74L402.48 151.23L403.28 150.76L404.07 150.32L404.87 149.91L405.66 149.52L406.45 149.16L407.25 148.83L408.04 148.51L408.83 148.22L410.42 147.70L412.01 147.26L413.60 146.89L415.18 146.58L416.77 146.34L418.36 146.15L419.95 146.03L421.53 145.96L423.12 145.94L424.71 145.98L426.30 146.08L427.89 146.23L429.47 146.43L431.06 146.70L432.65 147.02L434.24 147.39L435.82 147.84L437.41 148.35L439.00 148.93L439.79 149.24L440.59 149.58L441.38 149.94L442.17 150.32L442.97 150.73L443.76 151.15L444.55 151.61L445.35 152.09L446.14 152.60L446.94 153.14L447.73 153.72L448.13 154.02L448.52 154.33L448.92 154.65L449.32 154.98L449.71 155.32L450.11 155.67L450.51 156.04L450.91 156.41L451.30 156.80L451.70 157.21L452.10 157.63L452.49 158.06L452.89 158.51L453.29 158.98L453.68 159.47L454.08 159.98L454.48 160.51L454.87 161.06L455.27 161.64L455.47 161.94L455.67 162.24L455.87 162.56L456.07 162.88L456.26 163.21L456.46 163.55L456.66 163.89L456.86 164.25L457.06 164.62L457.26 164.99L457.45 165.38L457.65 165.78L457.85 166.19L458.05 166.62L458.25 167.05L458.45 167.51L458.64 167.98L458.84 168.46L459.04 168.97L459.24 169.49L459.44 170.03L459.64 170.60L459.84 171.19L459.93 171.49L460.03 171.81L460.13 172.13L460.23 172.45L460.33 172.79L460.43 173.13L460.53 173.48L460.63 173.84L460.73 174.21L460.83 174.59L460.93 174.99L461.03 175.39L461.13 175.80L461.22 176.23L461.32 176.67L461.42 177.13L461.52 177.60L461.62 178.09L461.72 178.59L461.82 179.12L461.92 179.66L462.02 180.23L462.12 180.82L462.17 181.13L462.22 181.44L462.27 181.76L462.32 182.09L462.37 182.42L462.42 182.77L462.47 183.12L462.51 183.48L462.56 183.85L462.61 184.23L462.66 184.62L462.71 185.02L462.76 185.44L462.81 185.87L462.86 186.31L462.91 186.76L462.96 187.23L463.01 187.72L463.06 188.23L463.11 188.75L463.16 189.30L463.21 189.86L463.26 190.45L463.28 190.76L463.31 191.07L463.33 191.39L463.36 191.72L463.38 192.05L463.41 192.40L463.43 192.75L463.46 193.11L463.48 193.48L463.51 193.86L463.53 194.25L463.56 194.65L463.58 195.07L463.61 195.49L463.63 195.93L463.66 196.39L463.68 196.86L463.71 197.35L463.73 197.85L463.76 198.37L463.78 198.92L463.80 199.49L463.83 200.08L463.84 200.38L463.85 200.69L463.87 201.01L463.88 201.30L463.90 201.30L464.00 201.30L464.40 201.30" fill="none" stroke="#f00" stroke-width="1.05" stroke-linejoin="round"/>
<circle cx="69.1" cy="155.0" r="1.45" fill="none" stroke="#f00" stroke-width="0.65"/>
<circle cx="71.5" cy="162.2" r="1.45" fill="none" stroke="#f00" stroke-width="0.65"/>
<circle cx="73.3" cy="162.3" r="1.45" fill="none" stroke="#f00" stroke-width="0.65"/>
<circle cx="74.8" cy="149.1" r="1.45" fill="none" stroke="#f00" stroke-width="0.65"/>
<circle cx="76.9" cy="152.7" r="1.45" fill="none" stroke="#f00" stroke-width="0.65"/>
<circle cx="79.2" cy="162.3" r="1.45" fill="none" stroke="#f00" stroke-width="0.65"/>
<circle cx="80.9" cy="156.8" r="1.45" fill="none" stroke="#f00" stroke-width="0.65"/>
<circle cx="82.9" cy="154.8" r="1.45" fill="none" stroke="#f00" stroke-width="0.65"/>
<circle cx="85.0" cy="169.0" r="1.45" fill="none" stroke="#f00" stroke-width="0.65"/>
<circle cx="86.5" cy="149.9" r="1.45" fill="none" stroke="#f00" stroke-width="0.65"/>
<circle cx="87.9" cy="148.7" r="1.45" fill="none" stroke="#f00" stroke-width="0.65"/>
<circle cx="89.3" cy="148.0" r="1.45" fill="none" stroke="#f00" stroke-width="0.65"/>
<circle cx="90.9" cy="147.3" r="1.45" fill="none" stroke="#f00" stroke-width="0.65"/>
<circle cx="92.5" cy="146.1" r="1.45" fill="none" stroke="#f00" stroke-width="0.65"/>
<circle cx="93.5" cy="144.7" r="1.45" fill="none" stroke="#f00" stroke-width="0.65"/>
<circle cx="94.9" cy="143.0" r="1.45" fill="none" stroke="#f00" stroke-width="0.65"/>
<circle cx="96.6" cy="145.8" r="1.45" fill="none" stroke="#f00" stroke-width="0.65"/>
<circle cx="97.2" cy="140.9" r="1.45" fill="none" stroke="#f00" stroke-width="0.65"/>
<circle cx="98.7" cy="141.4" r="1.45" fill="none" stroke="#f00" stroke-width="0.65"/>
<circle cx="101.2" cy="141.0" r="1.45" fill="none" stroke="#f00" stroke-width="0.65"/>
<circle cx="103.2" cy="138.5" r="1.45" fill="none" stroke="#f00" stroke-width="0.65"/>
<circle cx="105.2" cy="138.0" r="1.45" fill="none" stroke="#f00" stroke-width="0.65"/>
<circle cx="107.2" cy="136.7" r="1.45" fill="none" stroke="#f00" stroke-width="0.65"/>
<circle cx="109.2" cy="136.0" r="1.45" fill="none" stroke="#f00" stroke-width="0.65"/>
<circle cx="111.2" cy="134.1" r="1.45" fill="none" stroke="#f00" stroke-width="0.65"/>
<circle cx="113.1" cy="131.9" r="1.45" fill="none" stroke="#f00" stroke-width="0.65"/>
<circle cx="115.1" cy="131.5" r="1.45" fill="none" stroke="#f00" stroke-width="0.65"/>
<circle cx="117.1" cy="130.2" r="1.45" fill="none" stroke="#f00" stroke-width="0.65"/>
<circle cx="119.1" cy="129.8" r="1.45" fill="none" stroke="#f00" stroke-width="0.65"/>
<circle cx="121.1" cy="128.9" r="1.45" fill="none" stroke="#f00" stroke-width="0.65"/>
<circle cx="123.1" cy="128.3" r="1.45" fill="none" stroke="#f00" stroke-width="0.65"/>
<circle cx="125.1" cy="128.8" r="1.45" fill="none" stroke="#f00" stroke-width="0.65"/>
<circle cx="127.0" cy="126.4" r="1.45" fill="none" stroke="#f00" stroke-width="0.65"/>
<circle cx="129.0" cy="126.0" r="1.45" fill="none" stroke="#f00" stroke-width="0.65"/>
<circle cx="131.0" cy="125.5" r="1.45" fill="none" stroke="#f00" stroke-width="0.65"/>
<circle cx="133.0" cy="126.4" r="1.45" fill="none" stroke="#f00" stroke-width="0.65"/>
<circle cx="135.0" cy="126.0" r="1.45" fill="none" stroke="#f00" stroke-width="0.65"/>
<circle cx="137.0" cy="125.0" r="1.45" fill="none" stroke="#f00" stroke-width="0.65"/>
<circle cx="138.9" cy="124.3" r="1.45" fill="none" stroke="#f00" stroke-width="0.65"/>
<circle cx="140.9" cy="123.4" r="1.45" fill="none" stroke="#f00" stroke-width="0.65"/>
<circle cx="142.9" cy="123.3" r="1.45" fill="none" stroke="#f00" stroke-width="0.65"/>
<circle cx="144.9" cy="122.7" r="1.45" fill="none" stroke="#f00" stroke-width="0.65"/>
<circle cx="146.9" cy="123.2" r="1.45" fill="none" stroke="#f00" stroke-width="0.65"/>
<circle cx="148.9" cy="122.4" r="1.45" fill="none" stroke="#f00" stroke-width="0.65"/>
<circle cx="150.8" cy="122.2" r="1.45" fill="none" stroke="#f00" stroke-width="0.65"/>
<circle cx="152.8" cy="122.7" r="1.45" fill="none" stroke="#f00" stroke-width="0.65"/>
<circle cx="154.8" cy="121.1" r="1.45" fill="none" stroke="#f00" stroke-width="0.65"/>
<circle cx="156.8" cy="121.8" r="1.45" fill="none" stroke="#f00" stroke-width="0.65"/>
<circle cx="158.8" cy="121.3" r="1.45" fill="none" stroke="#f00" stroke-width="0.65"/>
<circle cx="160.8" cy="122.6" r="1.45" fill="none" stroke="#f00" stroke-width="0.65"/>
<circle cx="162.8" cy="122.7" r="1.45" fill="none" stroke="#f00" stroke-width="0.65"/>
<circle cx="164.7" cy="122.5" r="1.45" fill="none" stroke="#f00" stroke-width="0.65"/>
<circle cx="166.7" cy="122.5" r="1.45" fill="none" stroke="#f00" stroke-width="0.65"/>
<circle cx="168.7" cy="122.2" r="1.45" fill="none" stroke="#f00" stroke-width="0.65"/>
<circle cx="170.7" cy="122.6" r="1.45" fill="none" stroke="#f00" stroke-width="0.65"/>
<circle cx="172.7" cy="123.3" r="1.45" fill="none" stroke="#f00" stroke-width="0.65"/>
<circle cx="174.7" cy="124.0" r="1.45" fill="none" stroke="#f00" stroke-width="0.65"/>
<circle cx="176.6" cy="124.0" r="1.45" fill="none" stroke="#f00" stroke-width="0.65"/>
<circle cx="178.6" cy="123.2" r="1.45" fill="none" stroke="#f00" stroke-width="0.65"/>
<circle cx="180.6" cy="125.0" r="1.45" fill="none" stroke="#f00" stroke-width="0.65"/>
<circle cx="182.6" cy="124.7" r="1.45" fill="none" stroke="#f00" stroke-width="0.65"/>
<circle cx="184.6" cy="125.1" r="1.45" fill="none" stroke="#f00" stroke-width="0.65"/>
<circle cx="186.6" cy="126.9" r="1.45" fill="none" stroke="#f00" stroke-width="0.65"/>
<circle cx="188.6" cy="126.5" r="1.45" fill="none" stroke="#f00" stroke-width="0.65"/>
<circle cx="190.5" cy="126.4" r="1.45" fill="none" stroke="#f00" stroke-width="0.65"/>
<circle cx="192.5" cy="129.3" r="1.45" fill="none" stroke="#f00" stroke-width="0.65"/>
<circle cx="194.5" cy="129.0" r="1.45" fill="none" stroke="#f00" stroke-width="0.65"/>
<circle cx="196.5" cy="129.7" r="1.45" fill="none" stroke="#f00" stroke-width="0.65"/>
<circle cx="198.5" cy="131.1" r="1.45" fill="none" stroke="#f00" stroke-width="0.65"/>
<circle cx="200.5" cy="131.3" r="1.45" fill="none" stroke="#f00" stroke-width="0.65"/>
<circle cx="202.4" cy="132.8" r="1.45" fill="none" stroke="#f00" stroke-width="0.65"/>
<circle cx="204.4" cy="135.3" r="1.45" fill="none" stroke="#f00" stroke-width="0.65"/>
<circle cx="206.4" cy="134.6" r="1.45" fill="none" stroke="#f00" stroke-width="0.65"/>
<circle cx="208.4" cy="136.2" r="1.45" fill="none" stroke="#f00" stroke-width="0.65"/>
<circle cx="210.4" cy="137.5" r="1.45" fill="none" stroke="#f00" stroke-width="0.65"/>
<circle cx="212.4" cy="138.7" r="1.45" fill="none" stroke="#f00" stroke-width="0.65"/>
<circle cx="214.4" cy="142.3" r="1.45" fill="none" stroke="#f00" stroke-width="0.65"/>
<circle cx="216.7" cy="154.7" r="1.45" fill="none" stroke="#f00" stroke-width="0.65"/>
<circle cx="219.1" cy="143.2" r="1.45" fill="none" stroke="#f00" stroke-width="0.65"/>
<circle cx="221.1" cy="152.8" r="1.45" fill="none" stroke="#f00" stroke-width="0.65"/>
<circle cx="222.6" cy="146.6" r="1.45" fill="none" stroke="#f00" stroke-width="0.65"/>
<circle cx="224.9" cy="157.5" r="1.45" fill="none" stroke="#f00" stroke-width="0.65"/>
<circle cx="226.1" cy="155.0" r="1.45" fill="none" stroke="#f00" stroke-width="0.65"/>
<circle cx="227.7" cy="154.0" r="1.45" fill="none" stroke="#f00" stroke-width="0.65"/>
<circle cx="229.3" cy="156.8" r="1.45" fill="none" stroke="#f00" stroke-width="0.65"/>
<circle cx="231.0" cy="161.1" r="1.45" fill="none" stroke="#f00" stroke-width="0.65"/>
<circle cx="232.4" cy="156.2" r="1.45" fill="none" stroke="#f00" stroke-width="0.65"/>
<circle cx="233.8" cy="151.9" r="1.45" fill="none" stroke="#f00" stroke-width="0.65"/>
<circle cx="235.7" cy="150.5" r="1.45" fill="none" stroke="#f00" stroke-width="0.65"/>
<circle cx="237.1" cy="149.4" r="1.45" fill="none" stroke="#f00" stroke-width="0.65"/>
<circle cx="238.9" cy="144.9" r="1.45" fill="none" stroke="#f00" stroke-width="0.65"/>
<circle cx="240.6" cy="150.5" r="1.45" fill="none" stroke="#f00" stroke-width="0.65"/>
<circle cx="241.8" cy="145.4" r="1.45" fill="none" stroke="#f00" stroke-width="0.65"/>
<circle cx="244.1" cy="145.6" r="1.45" fill="none" stroke="#f00" stroke-width="0.65"/>
<circle cx="245.8" cy="139.7" r="1.45" fill="none" stroke="#f00" stroke-width="0.65"/>
<circle cx="247.3" cy="138.8" r="1.45" fill="none" stroke="#f00" stroke-width="0.65"/>
<circle cx="248.6" cy="141.8" r="1.45" fill="none" stroke="#f00" stroke-width="0.65"/>
<circle cx="250.3" cy="138.3" r="1.45" fill="none" stroke="#f00" stroke-width="0.65"/>
<circle cx="252.1" cy="140.1" r="1.45" fill="none" stroke="#f00" stroke-width="0.65"/>
<circle cx="253.8" cy="138.7" r="1.45" fill="none" stroke="#f00" stroke-width="0.65"/>
<circle cx="255.5" cy="138.0" r="1.45" fill="none" stroke="#f00" stroke-width="0.65"/>
<circle cx="257.3" cy="139.2" r="1.45" fill="none" stroke="#f00" stroke-width="0.65"/>
<circle cx="259.0" cy="137.5" r="1.45" fill="none" stroke="#f00" stroke-width="0.65"/>
<circle cx="260.8" cy="138.8" r="1.45" fill="none" stroke="#f00" stroke-width="0.65"/>
<circle cx="262.5" cy="138.3" r="1.45" fill="none" stroke="#f00" stroke-width="0.65"/>
<circle cx="263.7" cy="142.2" r="1.45" fill="none" stroke="#f00" stroke-width="0.65"/>
<circle cx="265.5" cy="139.5" r="1.45" fill="none" stroke="#f00" stroke-width="0.65"/>
<circle cx="267.2" cy="137.5" r="1.45" fill="none" stroke="#f00" stroke-width="0.65"/>
<circle cx="268.6" cy="138.8" r="1.45" fill="none" stroke="#f00" stroke-width="0.65"/>
<circle cx="270.7" cy="139.7" r="1.45" fill="none" stroke="#f00" stroke-width="0.65"/>
<circle cx="272.5" cy="140.9" r="1.45" fill="none" stroke="#f00" stroke-width="0.65"/>
<circle cx="273.9" cy="143.6" r="1.45" fill="none" stroke="#f00" stroke-width="0.65"/>
<circle cx="275.6" cy="146.2" r="1.45" fill="none" stroke="#f00" stroke-width="0.65"/>
<circle cx="277.4" cy="142.3" r="1.45" fill="none" stroke="#f00" stroke-width="0.65"/>
<circle cx="279.1" cy="143.6" r="1.45" fill="none" stroke="#f00" stroke-width="0.65"/>
<circle cx="280.8" cy="144.8" r="1.45" fill="none" stroke="#f00" stroke-width="0.65"/>
<circle cx="282.6" cy="146.2" r="1.45" fill="none" stroke="#f00" stroke-width="0.65"/>
<circle cx="284.7" cy="147.1" r="1.45" fill="none" stroke="#f00" stroke-width="0.65"/>
<circle cx="286.4" cy="145.3" r="1.45" fill="none" stroke="#f00" stroke-width="0.65"/>
<circle cx="287.5" cy="141.3" r="1.45" fill="none" stroke="#f00" stroke-width="0.65"/>
<circle cx="289.2" cy="146.2" r="1.45" fill="none" stroke="#f00" stroke-width="0.65"/>
<circle cx="291.3" cy="154.0" r="1.45" fill="none" stroke="#f00" stroke-width="0.65"/>
<circle cx="293.1" cy="150.5" r="1.45" fill="none" stroke="#f00" stroke-width="0.65"/>
<circle cx="295.1" cy="152.1" r="1.45" fill="none" stroke="#f00" stroke-width="0.65"/>
<circle cx="297.3" cy="146.8" r="1.45" fill="none" stroke="#f00" stroke-width="0.65"/>
<circle cx="299.4" cy="154.7" r="1.45" fill="none" stroke="#f00" stroke-width="0.65"/>
<circle cx="301.2" cy="157.8" r="1.45" fill="none" stroke="#f00" stroke-width="0.65"/>
<circle cx="303.3" cy="152.1" r="1.45" fill="none" stroke="#f00" stroke-width="0.65"/>
<circle cx="305.5" cy="175.3" r="1.45" fill="none" stroke="#f00" stroke-width="0.65"/>
<circle cx="307.3" cy="147.7" r="1.45" fill="none" stroke="#f00" stroke-width="0.65"/>
<circle cx="309.4" cy="168.3" r="1.45" fill="none" stroke="#f00" stroke-width="0.65"/>
<circle cx="311.1" cy="164.8" r="1.45" fill="none" stroke="#f00" stroke-width="0.65"/>
<circle cx="313.0" cy="170.7" r="1.45" fill="none" stroke="#f00" stroke-width="0.65"/>
<circle cx="315.1" cy="162.0" r="1.45" fill="none" stroke="#f00" stroke-width="0.65"/>
<circle cx="316.9" cy="153.8" r="1.45" fill="none" stroke="#f00" stroke-width="0.65"/>
<circle cx="319.0" cy="148.6" r="1.45" fill="none" stroke="#f00" stroke-width="0.65"/>
<circle cx="320.9" cy="158.7" r="1.45" fill="none" stroke="#f00" stroke-width="0.65"/>
<circle cx="323.0" cy="150.8" r="1.45" fill="none" stroke="#f00" stroke-width="0.65"/>
<circle cx="325.1" cy="148.6" r="1.45" fill="none" stroke="#f00" stroke-width="0.65"/>
<circle cx="326.8" cy="147.7" r="1.45" fill="none" stroke="#f00" stroke-width="0.65"/>
<circle cx="329.1" cy="147.7" r="1.45" fill="none" stroke="#f00" stroke-width="0.65"/>
<circle cx="331.2" cy="147.3" r="1.45" fill="none" stroke="#f00" stroke-width="0.65"/>
<circle cx="333.1" cy="149.1" r="1.45" fill="none" stroke="#f00" stroke-width="0.65"/>
<circle cx="334.9" cy="145.9" r="1.45" fill="none" stroke="#f00" stroke-width="0.65"/>
<circle cx="337.0" cy="144.7" r="1.45" fill="none" stroke="#f00" stroke-width="0.65"/>
<circle cx="338.7" cy="142.5" r="1.45" fill="none" stroke="#f00" stroke-width="0.65"/>
<circle cx="340.4" cy="145.1" r="1.45" fill="none" stroke="#f00" stroke-width="0.65"/>
<circle cx="342.7" cy="141.6" r="1.45" fill="none" stroke="#f00" stroke-width="0.65"/>
<circle cx="344.5" cy="148.2" r="1.45" fill="none" stroke="#f00" stroke-width="0.65"/>
<circle cx="346.3" cy="149.1" r="1.45" fill="none" stroke="#f00" stroke-width="0.65"/>
<circle cx="348.4" cy="146.1" r="1.45" fill="none" stroke="#f00" stroke-width="0.65"/>
<circle cx="350.2" cy="141.9" r="1.45" fill="none" stroke="#f00" stroke-width="0.65"/>
<circle cx="352.3" cy="155.6" r="1.45" fill="none" stroke="#f00" stroke-width="0.65"/>
<circle cx="354.4" cy="142.5" r="1.45" fill="none" stroke="#f00" stroke-width="0.65"/>
<circle cx="356.2" cy="154.4" r="1.45" fill="none" stroke="#f00" stroke-width="0.65"/>
<circle cx="358.2" cy="150.6" r="1.45" fill="none" stroke="#f00" stroke-width="0.65"/>
<circle cx="360.0" cy="152.0" r="1.45" fill="none" stroke="#f00" stroke-width="0.65"/>
<circle cx="362.1" cy="153.5" r="1.45" fill="none" stroke="#f00" stroke-width="0.65"/>
<circle cx="364.2" cy="148.2" r="1.45" fill="none" stroke="#f00" stroke-width="0.65"/>
<circle cx="366.0" cy="155.9" r="1.45" fill="none" stroke="#f00" stroke-width="0.65"/>
<circle cx="368.0" cy="149.7" r="1.45" fill="none" stroke="#f00" stroke-width="0.65"/>
<circle cx="370.1" cy="162.5" r="1.45" fill="none" stroke="#f00" stroke-width="0.65"/>
<circle cx="371.9" cy="152.6" r="1.45" fill="none" stroke="#f00" stroke-width="0.65"/>
<circle cx="374.0" cy="159.5" r="1.45" fill="none" stroke="#f00" stroke-width="0.65"/>
<circle cx="375.8" cy="180.3" r="1.45" fill="none" stroke="#f00" stroke-width="0.65"/>
<circle cx="377.9" cy="154.1" r="1.45" fill="none" stroke="#f00" stroke-width="0.65"/>
<circle cx="379.9" cy="166.3" r="1.45" fill="none" stroke="#f00" stroke-width="0.65"/>
<circle cx="381.7" cy="170.8" r="1.45" fill="none" stroke="#f00" stroke-width="0.65"/>
<circle cx="383.8" cy="166.9" r="1.45" fill="none" stroke="#f00" stroke-width="0.65"/>
<circle cx="385.9" cy="158.0" r="1.45" fill="none" stroke="#f00" stroke-width="0.65"/>
<circle cx="387.7" cy="164.5" r="1.45" fill="none" stroke="#f00" stroke-width="0.65"/>
<circle cx="389.8" cy="163.9" r="1.45" fill="none" stroke="#f00" stroke-width="0.65"/>
<circle cx="391.8" cy="166.0" r="1.45" fill="none" stroke="#f00" stroke-width="0.65"/>
<circle cx="393.6" cy="163.9" r="1.45" fill="none" stroke="#f00" stroke-width="0.65"/>
<circle cx="395.7" cy="154.1" r="1.45" fill="none" stroke="#f00" stroke-width="0.65"/>
<circle cx="397.8" cy="178.8" r="1.45" fill="none" stroke="#f00" stroke-width="0.65"/>
<circle cx="399.6" cy="158.9" r="1.45" fill="none" stroke="#f00" stroke-width="0.65"/>
<circle cx="401.6" cy="153.5" r="1.45" fill="none" stroke="#f00" stroke-width="0.65"/>
<circle cx="403.7" cy="150.0" r="1.45" fill="none" stroke="#f00" stroke-width="0.65"/>
<circle cx="405.5" cy="149.1" r="1.45" fill="none" stroke="#f00" stroke-width="0.65"/>
<circle cx="407.6" cy="152.9" r="1.45" fill="none" stroke="#f00" stroke-width="0.65"/>
<circle cx="409.4" cy="148.2" r="1.45" fill="none" stroke="#f00" stroke-width="0.65"/>
<circle cx="411.5" cy="152.9" r="1.45" fill="none" stroke="#f00" stroke-width="0.65"/>
<circle cx="413.5" cy="148.5" r="1.45" fill="none" stroke="#f00" stroke-width="0.65"/>
<circle cx="415.3" cy="148.2" r="1.45" fill="none" stroke="#f00" stroke-width="0.65"/>
<circle cx="417.4" cy="152.9" r="1.45" fill="none" stroke="#f00" stroke-width="0.65"/>
<circle cx="419.5" cy="151.5" r="1.45" fill="none" stroke="#f00" stroke-width="0.65"/>
<circle cx="421.3" cy="155.0" r="1.45" fill="none" stroke="#f00" stroke-width="0.65"/>
<circle cx="423.3" cy="144.0" r="1.45" fill="none" stroke="#f00" stroke-width="0.65"/>
<circle cx="425.1" cy="151.5" r="1.45" fill="none" stroke="#f00" stroke-width="0.65"/>
<circle cx="427.2" cy="154.1" r="1.45" fill="none" stroke="#f00" stroke-width="0.65"/>
<circle cx="429.3" cy="151.2" r="1.45" fill="none" stroke="#f00" stroke-width="0.65"/>
<circle cx="431.1" cy="149.1" r="1.45" fill="none" stroke="#f00" stroke-width="0.65"/>
<circle cx="433.2" cy="144.0" r="1.45" fill="none" stroke="#f00" stroke-width="0.65"/>
<circle cx="435.2" cy="166.9" r="1.45" fill="none" stroke="#f00" stroke-width="0.65"/>
<circle cx="437.0" cy="151.2" r="1.45" fill="none" stroke="#f00" stroke-width="0.65"/>
<circle cx="439.1" cy="144.9" r="1.45" fill="none" stroke="#f00" stroke-width="0.65"/>
<circle cx="440.9" cy="165.4" r="1.45" fill="none" stroke="#f00" stroke-width="0.65"/>
<circle cx="443.0" cy="161.9" r="1.45" fill="none" stroke="#f00" stroke-width="0.65"/>
<circle cx="445.0" cy="155.0" r="1.45" fill="none" stroke="#f00" stroke-width="0.65"/>
<circle cx="446.8" cy="154.1" r="1.45" fill="none" stroke="#f00" stroke-width="0.65"/>
<circle cx="448.9" cy="154.4" r="1.45" fill="none" stroke="#f00" stroke-width="0.65"/>
<circle cx="451.0" cy="158.0" r="1.45" fill="none" stroke="#f00" stroke-width="0.65"/>
<circle cx="452.8" cy="149.1" r="1.45" fill="none" stroke="#f00" stroke-width="0.65"/>
<circle cx="454.9" cy="152.0" r="1.45" fill="none" stroke="#f00" stroke-width="0.65"/>
<circle cx="456.9" cy="158.9" r="1.45" fill="none" stroke="#f00" stroke-width="0.65"/>
<circle cx="458.7" cy="158.9" r="1.45" fill="none" stroke="#f00" stroke-width="0.65"/>
<circle cx="460.8" cy="193.7" r="1.45" fill="none" stroke="#f00" stroke-width="0.65"/>
<circle cx="462.9" cy="167.5" r="1.45" fill="none" stroke="#f00" stroke-width="0.65"/>
<circle cx="464.7" cy="167.5" r="1.45" fill="none" stroke="#f00" stroke-width="0.65"/>
<text x="55.8" y="137.70" text-anchor="end" class="tl">10</text>
<text x="61.3" y="129.25" text-anchor="end" class="sup">0</text>
<text x="52.4" y="169.60" text-anchor="end" class="tl">10</text>
<text x="61.3" y="161.15" text-anchor="end" class="sup">-2</text>
<text x="52.4" y="201.50" text-anchor="end" class="tl">10</text>
<text x="61.3" y="193.05" text-anchor="end" class="sup">-4</text>
<g class="ti">
<text x="244.7" y="123.3" textLength="11.2" lengthAdjust="spacingAndGlyphs">ψ</text>
<text x="259.5" y="123.3" textLength="8.4" lengthAdjust="spacingAndGlyphs">=</text>
<text x="272.0" y="123.3">2</text>
<text x="279.8" y="123.3" textLength="9.2" lengthAdjust="spacingAndGlyphs">π</text>
</g>
<clipPath id="c2"><rect x="67.00" y="211.30" width="397.90" height="87.70"/></clipPath>
<path d="M67.50 217.40 h7.5 M464.40 217.40 h-7.7 M67.50 233.35 h15.6 M464.40 233.35 h-7.7 M67.50 249.30 h7.5 M464.40 249.30 h-7.7 M67.50 265.25 h15.6 M464.40 265.25 h-7.7 M67.50 281.20 h7.5 M464.40 281.20 h-7.7 M67.50 297.15 h15.6 M464.40 297.15 h-7.7 M67.50 211.30 v6.8 M67.50 298.50 v-6.8 M146.88 211.30 v6.8 M146.88 298.50 v-6.8 M226.26 211.30 v6.8 M226.26 298.50 v-6.8 M305.64 211.30 v6.8 M305.64 298.50 v-6.8 M385.02 211.30 v6.8 M385.02 298.50 v-6.8 M464.40 211.30 v6.8 M464.40 298.50 v-6.8" stroke="#000" stroke-width="1" fill="none"/>
<rect x="67.50" y="211.30" width="396.90" height="87.20" fill="none" stroke="#000" stroke-width="1"/>
<path clip-path="url(#c2)" d="M67.50 302.50L69.09 302.50L69.48 302.50L69.68 302.50L69.71 302.40L69.73 302.10L69.76 301.79L69.78 301.49L69.83 300.90L69.88 300.32L69.93 299.75L69.98 299.19L70.03 298.65L70.08 298.11L70.13 297.59L70.18 297.07L70.23 296.57L70.28 296.07L70.33 295.58L70.38 295.10L70.43 294.63L70.48 294.17L70.53 293.72L70.58 293.27L70.63 292.83L70.68 292.40L70.72 291.97L70.77 291.55L70.82 291.14L70.87 290.74L70.92 290.34L70.97 289.94L71.02 289.55L71.07 289.17L71.12 288.79L71.17 288.42L71.22 288.05L71.27 287.69L71.32 287.33L71.37 286.98L71.42 286.63L71.47 286.29L71.52 285.95L71.57 285.61L71.62 285.28L71.67 284.95L71.72 284.63L71.77 284.31L71.82 284.00L71.87 283.69L71.92 283.38L71.97 283.07L72.06 282.48L72.16 281.89L72.26 281.32L72.36 280.76L72.46 280.21L72.56 279.68L72.66 279.15L72.76 278.64L72.86 278.13L72.96 277.64L73.06 277.15L73.16 276.67L73.26 276.21L73.35 275.75L73.45 275.30L73.55 274.85L73.65 274.42L73.75 273.99L73.85 273.57L73.95 273.16L74.05 272.75L74.15 272.35L74.25 271.95L74.35 271.57L74.45 271.19L74.54 270.81L74.64 270.44L74.74 270.08L74.84 269.72L74.94 269.36L75.04 269.01L75.14 268.67L75.24 268.33L75.34 268.00L75.44 267.67L75.54 267.35L75.64 267.03L75.74 266.71L75.83 266.40L75.93 266.09L76.03 265.79L76.23 265.20L76.43 264.62L76.63 264.06L76.83 263.51L77.03 262.97L77.22 262.45L77.42 261.94L77.62 261.44L77.82 260.96L78.02 260.48L78.22 260.02L78.41 259.57L78.61 259.12L78.81 258.69L79.01 258.27L79.21 257.86L79.41 257.45L79.61 257.06L79.80 256.67L80.00 256.29L80.20 255.92L80.40 255.56L80.60 255.21L80.80 254.86L80.99 254.52L81.19 254.19L81.39 253.86L81.59 253.55L81.79 253.23L81.99 252.93L82.19 252.63L82.58 252.06L82.98 251.50L83.38 250.98L83.77 250.47L84.17 249.99L84.57 249.53L84.96 249.09L85.36 248.67L85.76 248.27L86.15 247.89L86.55 247.53L86.95 247.18L87.34 246.86L88.14 246.27L88.93 245.75L89.73 245.30L90.52 244.92L91.31 244.62L92.90 244.22L94.49 244.14L96.08 244.39L96.87 244.66L97.66 245.04L98.46 245.55L98.86 245.85L99.25 246.19L99.65 246.57L100.05 247.00L100.44 247.47L100.84 248.00L101.24 248.58L101.43 248.90L101.63 249.24L101.83 249.59L102.03 249.97L102.23 250.37L102.43 250.79L102.63 251.23L102.82 251.71L103.02 252.21L103.22 252.75L103.42 253.32L103.52 253.62L103.62 253.93L103.72 254.25L103.82 254.59L103.92 254.93L104.01 255.29L104.11 255.66L104.21 256.05L104.31 256.46L104.41 256.88L104.51 257.31L104.61 257.77L104.71 258.25L104.81 258.75L104.91 259.28L105.01 259.83L105.11 260.41L105.16 260.71L105.21 261.02L105.26 261.34L105.30 261.67L105.35 262.01L105.40 262.35L105.45 262.71L105.50 263.08L105.55 263.47L105.60 263.86L105.65 264.27L105.70 264.69L105.75 265.13L105.80 265.59L105.85 266.06L105.90 266.55L105.95 267.06L106.00 267.60L106.05 268.16L106.10 268.74L106.12 269.05L106.15 269.36L106.17 269.68L106.20 270.00L106.22 270.34L106.25 270.68L106.27 271.04L106.30 271.40L106.32 271.78L106.35 272.16L106.37 272.56L106.40 272.97L106.42 273.40L106.45 273.84L106.47 274.29L106.50 274.76L106.52 275.25L106.55 275.76L106.57 276.29L106.59 276.84L106.62 277.42L106.63 277.71L106.64 278.02L106.66 278.33L106.67 278.65L106.68 278.97L106.69 279.31L106.71 279.65L106.72 280.00L106.73 280.37L106.74 280.74L106.76 281.12L106.77 281.51L106.78 281.92L106.79 282.34L106.81 282.77L106.82 283.22L106.83 283.68L106.84 284.16L106.86 284.66L106.87 285.17L106.88 285.71L106.89 286.27L106.90 286.85L106.91 287.15L106.92 287.46L106.92 287.77L106.93 288.09L106.94 288.42L106.94 288.76L106.95 289.11L106.95 289.47L106.96 289.83L106.97 290.21L106.97 290.60L106.98 290.99L106.99 291.40L106.99 291.83L107.00 292.26L107.00 292.71L107.01 293.18L107.02 293.66L107.02 294.16L107.03 294.68L107.03 295.22L107.04 295.78L107.05 296.37L107.05 296.67L107.05 296.98L107.06 297.30L107.06 297.62L107.06 297.95L107.07 298.29L107.07 298.64L107.07 299.00L107.08 299.37L107.08 299.75L107.08 300.13L107.08 300.53L107.09 300.95L107.09 301.37L107.09 301.81L107.10 302.26L107.10 302.50L107.10 302.50L107.12 302.50L107.14 302.50L107.19 302.50L107.24 302.50L107.26 302.50L107.28 302.50L107.28 302.50L107.28 302.15L107.29 301.70L107.29 301.25L107.29 300.83L107.30 300.41L107.30 300.01L107.30 299.62L107.30 299.23L107.31 298.86L107.31 298.50L107.31 298.15L107.32 297.81L107.32 297.47L107.32 297.14L107.33 296.82L107.33 296.51L107.33 296.20L107.34 295.61L107.35 295.04L107.35 294.49L107.36 293.97L107.36 293.46L107.37 292.97L107.38 292.50L107.38 292.04L107.39 291.59L107.39 291.16L107.40 290.75L107.41 290.34L107.41 289.95L107.42 289.57L107.43 289.19L107.43 288.83L107.44 288.47L107.44 288.13L107.45 287.79L107.46 287.46L107.46 287.14L107.47 286.83L107.48 286.52L107.49 285.92L107.50 285.35L107.51 284.80L107.52 284.27L107.54 283.76L107.55 283.26L107.56 282.79L107.57 282.33L107.59 281.88L107.60 281.44L107.61 281.02L107.62 280.62L107.64 280.22L107.65 279.83L107.66 279.45L107.67 279.09L107.69 278.73L107.70 278.38L107.71 278.04L107.72 277.71L107.74 277.38L107.75 277.06L107.76 276.75L107.77 276.45L107.79 276.15L107.81 275.57L107.83 275.01L107.86 274.47L107.88 273.96L107.91 273.46L107.93 272.97L107.96 272.50L107.98 272.05L108.01 271.61L108.03 271.18L108.06 270.77L108.08 270.36L108.11 269.97L108.13 269.59L108.16 269.21L108.18 268.85L108.21 268.49L108.23 268.15L108.26 267.81L108.28 267.47L108.31 267.15L108.33 266.83L108.36 266.52L108.38 266.21L108.43 265.62L108.48 265.05L108.53 264.50L108.58 263.97L108.63 263.46L108.68 262.96L108.73 262.48L108.78 262.01L108.83 261.56L108.88 261.12L108.93 260.69L108.98 260.27L109.03 259.87L109.08 259.47L109.12 259.09L109.17 258.71L109.22 258.34L109.27 257.98L109.32 257.63L109.37 257.28L109.42 256.95L109.47 256.62L109.52 256.29L109.57 255.98L109.62 255.66L109.67 255.36L109.77 254.76L109.87 254.19L109.97 253.64L110.07 253.10L110.17 252.58L110.27 252.08L110.37 251.59L110.46 251.11L110.56 250.65L110.66 250.20L110.76 249.76L110.86 249.33L110.96 248.92L111.06 248.51L111.16 248.11L111.26 247.72L111.36 247.34L111.46 246.97L111.56 246.60L111.66 246.24L111.75 245.89L111.85 245.55L111.95 245.21L112.05 244.88L112.15 244.56L112.25 244.24L112.35 243.92L112.45 243.62L112.55 243.31L112.75 242.72L112.95 242.15L113.14 241.59L113.34 241.06L113.54 240.53L113.74 240.02L113.94 239.53L114.14 239.05L114.33 238.57L114.53 238.12L114.73 237.67L114.93 237.23L115.13 236.80L115.33 236.39L115.52 235.98L115.72 235.58L115.92 235.19L116.12 234.80L116.32 234.43L116.52 234.06L116.72 233.70L116.91 233.35L117.11 233.00L117.31 232.66L117.51 232.32L117.71 231.99L117.91 231.67L118.10 231.35L118.30 231.04L118.50 230.74L118.70 230.43L119.10 229.85L119.49 229.28L119.89 228.73L120.29 228.19L120.68 227.67L121.08 227.17L121.48 226.68L121.88 226.20L122.27 225.74L122.67 225.29L123.07 224.86L123.46 224.43L123.86 224.02L124.26 223.62L124.65 223.22L125.05 222.84L125.45 222.47L125.84 222.11L126.24 221.76L126.64 221.42L127.03 221.08L127.43 220.76L127.83 220.44L128.23 220.13L128.62 219.83L129.42 219.25L130.21 218.70L131.00 218.18L131.80 217.69L132.59 217.22L133.39 216.78L134.18 216.37L134.97 215.98L135.77 215.61L136.56 215.26L137.35 214.94L138.94 214.36L140.53 213.87L142.12 213.45L143.70 213.12L145.29 212.87L146.88 212.69L148.47 212.59L150.06 212.57L151.64 212.62L153.23 212.76L154.82 212.97L156.41 213.27L157.99 213.65L159.58 214.12L161.17 214.68L161.96 215.00L162.76 215.34L163.55 215.71L164.34 216.11L165.14 216.54L165.93 217.00L166.72 217.49L167.52 218.01L168.31 218.56L169.11 219.16L169.50 219.47L169.90 219.79L170.30 220.12L170.69 220.47L171.09 220.82L171.49 221.19L171.88 221.57L172.28 221.96L172.68 222.37L173.08 222.79L173.47 223.22L173.87 223.67L174.27 224.14L174.66 224.62L175.06 225.12L175.46 225.64L175.85 226.18L176.25 226.75L176.65 227.33L176.85 227.64L177.04 227.94L177.24 228.26L177.44 228.58L177.64 228.91L177.84 229.25L178.04 229.60L178.24 229.95L178.43 230.31L178.63 230.68L178.83 231.06L179.03 231.45L179.23 231.86L179.43 232.27L179.62 232.69L179.82 233.12L180.02 233.57L180.22 234.03L180.42 234.51L180.62 235.00L180.81 235.51L181.01 236.03L181.21 236.57L181.41 237.14L181.61 237.72L181.71 238.02L181.81 238.33L181.91 238.64L182.01 238.96L182.10 239.28L182.20 239.61L182.30 239.95L182.40 240.30L182.50 240.66L182.60 241.02L182.70 241.40L182.80 241.78L182.90 242.17L183.00 242.57L183.10 242.99L183.20 243.41L183.30 243.85L183.39 244.30L183.49 244.76L183.59 245.24L183.69 245.73L183.79 246.24L183.89 246.77L183.99 247.32L184.09 247.89L184.19 248.48L184.24 248.78L184.29 249.09L184.34 249.41L184.39 249.73L184.44 250.07L184.49 250.40L184.54 250.75L184.59 251.11L184.64 251.47L184.68 251.84L184.73 252.23L184.78 252.62L184.83 253.02L184.88 253.44L184.93 253.86L184.98 254.30L185.03 254.76L185.08 255.22L185.13 255.71L185.18 256.21L185.23 256.72L185.28 257.26L185.33 257.82L185.38 258.40L185.40 258.70L185.43 259.00L185.45 259.31L185.48 259.63L185.50 259.96L185.53 260.29L185.55 260.63L185.58 260.98L185.60 261.34L185.63 261.70L185.65 262.08L185.68 262.47L185.70 262.86L185.73 263.27L185.75 263.69L185.78 264.13L185.80 264.57L185.83 265.04L185.85 265.51L185.88 266.01L185.90 266.52L185.93 267.05L185.95 267.60L185.97 268.17L186.00 268.77L186.01 269.07L186.02 269.39L186.04 269.71L186.05 270.04L186.06 270.38L186.07 270.72L186.09 271.08L186.10 271.44L186.11 271.82L186.12 272.20L186.14 272.59L186.15 273.00L186.16 273.42L186.17 273.85L186.19 274.29L186.20 274.75L186.21 275.22L186.22 275.71L186.24 276.22L186.25 276.74L186.26 277.29L186.27 277.86L186.28 278.45L186.29 278.76L186.30 279.07L186.30 279.39L186.31 279.72L186.32 280.06L186.32 280.40L186.33 280.75L186.33 281.11L186.34 281.49L186.35 281.87L186.35 282.26L186.36 282.66L186.37 283.08L186.37 283.51L186.38 283.95L186.38 284.40L186.39 284.88L186.40 285.36L186.40 285.87L186.41 286.39L186.41 286.94L186.42 287.51L186.43 288.10L186.43 288.40L186.43 288.72L186.44 289.04L186.44 289.36L186.44 289.70L186.45 290.04L186.45 290.39L186.45 290.75L186.46 291.12L186.46 291.50L186.46 291.90L186.46 292.30L186.47 292.71L186.47 293.14L186.47 293.58L186.48 294.04L186.48 294.51L186.48 294.99L186.49 295.50L186.49 296.02L186.49 296.57L186.50 297.13L186.50 297.72L186.50 298.03L186.50 298.34L186.50 298.66L186.50 298.99L186.51 299.32L186.51 299.66L186.51 300.01L186.51 300.37L186.51 300.74L186.51 301.12L186.52 301.51L186.52 301.92L186.52 302.33L186.52 302.50L186.57 302.50L186.62 302.50L186.62 302.36L186.62 301.95L186.62 301.55L186.63 301.16L186.63 300.78L186.63 300.41L186.63 300.05L186.63 299.70L186.63 299.36L186.64 299.02L186.64 298.70L186.64 298.38L186.64 298.07L186.64 297.77L186.64 297.18L186.65 296.61L186.65 296.07L186.65 295.55L186.66 295.05L186.66 294.56L186.66 294.09L186.67 293.64L186.67 293.20L186.67 292.77L186.68 292.36L186.68 291.96L186.68 291.57L186.68 291.19L186.69 290.82L186.69 290.47L186.69 290.12L186.70 289.77L186.70 289.44L186.70 289.12L186.71 288.80L186.71 288.49L186.71 288.18L186.72 287.60L186.73 287.03L186.73 286.49L186.74 285.97L186.74 285.47L186.75 284.98L186.76 284.52L186.76 284.06L186.77 283.63L186.77 283.20L186.78 282.79L186.79 282.39L186.79 282.00L186.80 281.63L186.81 281.26L186.81 280.90L186.82 280.55L186.82 280.21L186.83 279.88L186.84 279.55L186.84 279.24L186.85 278.93L186.86 278.63L186.87 278.04L186.88 277.48L186.89 276.94L186.90 276.42L186.92 275.92L186.93 275.44L186.94 274.97L186.95 274.52L186.97 274.09L186.98 273.66L186.99 273.25L187.00 272.86L187.02 272.47L187.03 272.09L187.04 271.73L187.05 271.37L187.07 271.02L187.08 270.69L187.09 270.36L187.10 270.03L187.12 269.72L187.13 269.41L187.14 269.11L187.17 268.53L187.19 267.97L187.21 267.44L187.24 266.92L187.26 266.43L187.29 265.95L187.31 265.49L187.34 265.04L187.36 264.61L187.39 264.19L187.41 263.78L187.44 263.39L187.46 263.01L187.49 262.64L187.51 262.27L187.54 261.92L187.56 261.58L187.59 261.25L187.61 260.92L187.64 260.60L187.66 260.29L187.71 259.69L187.76 259.12L187.81 258.57L187.86 258.04L187.91 257.54L187.96 257.05L188.01 256.58L188.06 256.13L188.11 255.69L188.16 255.26L188.21 254.86L188.26 254.46L188.31 254.07L188.36 253.70L188.41 253.34L188.46 252.98L188.50 252.64L188.55 252.31L188.60 251.98L188.65 251.67L188.70 251.36L188.75 251.06L188.85 250.48L188.95 249.92L189.05 249.39L189.15 248.88L189.25 248.40L189.35 247.93L189.45 247.48L189.55 247.04L189.65 246.63L189.75 246.22L189.84 245.83L189.94 245.46L190.04 245.09L190.14 244.74L190.24 244.40L190.34 244.07L190.44 243.75L190.54 243.43L190.74 242.83L190.94 242.27L191.13 241.73L191.33 241.22L191.53 240.74L191.73 240.28L191.93 239.84L192.13 239.42L192.33 239.02L192.52 238.63L192.72 238.27L192.92 237.91L193.12 237.58L193.32 237.25L193.52 236.94L193.71 236.64L194.11 236.08L194.51 235.56L194.90 235.08L195.30 234.63L195.70 234.22L196.10 233.84L196.49 233.48L196.89 233.15L197.68 232.57L198.48 232.08L199.27 231.67L200.06 231.33L200.86 231.06L202.45 230.71L204.03 230.59L205.62 230.70L207.21 231.01L208.80 231.53L209.59 231.87L210.38 232.27L211.18 232.73L211.97 233.25L212.77 233.84L213.16 234.15L213.56 234.49L213.96 234.85L214.35 235.22L214.75 235.61L215.15 236.03L215.54 236.47L215.94 236.93L216.34 237.42L216.73 237.94L217.13 238.48L217.53 239.06L217.73 239.36L217.93 239.66L218.12 239.98L218.32 240.31L218.52 240.65L218.72 240.99L218.92 241.35L219.12 241.72L219.31 242.10L219.51 242.49L219.71 242.90L219.91 243.32L220.11 243.75L220.31 244.20L220.50 244.67L220.70 245.16L220.90 245.66L221.10 246.18L221.30 246.73L221.50 247.30L221.70 247.89L221.79 248.20L221.89 248.51L221.99 248.83L222.09 249.16L222.19 249.50L222.29 249.84L222.39 250.20L222.49 250.56L222.59 250.94L222.69 251.32L222.79 251.71L222.89 252.12L222.99 252.54L223.08 252.97L223.18 253.42L223.28 253.88L223.38 254.36L223.48 254.85L223.58 255.36L223.68 255.89L223.78 256.44L223.88 257.01L223.98 257.61L224.03 257.92L224.08 258.24L224.13 258.56L224.18 258.89L224.23 259.23L224.28 259.57L224.33 259.93L224.37 260.29L224.42 260.67L224.47 261.05L224.52 261.45L224.57 261.85L224.62 262.27L224.67 262.70L224.72 263.15L224.77 263.61L224.82 264.08L224.87 264.58L224.92 265.08L224.97 265.61L225.02 266.16L225.07 266.73L225.12 267.33L225.14 267.64L225.17 267.95L225.19 268.27L225.22 268.60L225.24 268.94L225.27 269.28L225.29 269.64L225.32 270.00L225.34 270.37L225.37 270.75L225.39 271.15L225.42 271.55L225.44 271.97L225.47 272.40L225.49 272.84L225.52 273.30L225.54 273.77L225.57 274.26L225.59 274.77L225.62 275.29L225.64 275.84L225.66 276.41L225.69 277.00L225.70 277.31L225.71 277.62L225.73 277.94L225.74 278.27L225.75 278.60L225.76 278.95L225.78 279.30L225.79 279.66L225.80 280.03L225.81 280.41L225.83 280.80L225.84 281.21L225.85 281.62L225.86 282.05L225.88 282.49L225.89 282.95L225.90 283.42L225.91 283.91L225.93 284.41L225.94 284.94L225.95 285.48L225.96 286.05L225.97 286.64L225.98 286.95L225.99 287.26L225.99 287.58L226.00 287.91L226.01 288.24L226.01 288.58L226.02 288.93L226.02 289.30L226.03 289.67L226.04 290.05L226.04 290.44L226.05 290.84L226.06 291.25L226.06 291.68L226.07 292.12L226.07 292.58L226.08 293.05L226.09 293.53L226.09 294.04L226.10 294.56L226.10 295.11L226.11 295.67L226.12 296.26L226.12 296.57L226.12 296.88L226.13 297.20L226.13 297.53L226.13 297.86L226.14 298.20L226.14 298.55L226.14 298.91L226.15 299.28L226.15 299.66L226.15 300.06L226.15 300.46L226.16 300.87L226.16 301.30L226.16 301.74L226.17 302.19L226.17 302.50L226.17 302.50L226.19 302.50L226.21 302.50L226.26 302.50L226.31 302.50L226.33 302.50L226.35 302.50L226.35 302.50L226.35 302.22L226.36 301.77L226.36 301.33L226.36 300.90L226.37 300.49L226.37 300.09L226.37 299.70L226.37 299.32L226.38 298.95L226.38 298.59L226.38 298.24L226.39 297.90L226.39 297.56L226.39 297.24L226.40 296.92L226.40 296.61L226.40 296.31L226.41 295.72L226.42 295.15L226.42 294.61L226.43 294.09L226.43 293.59L226.44 293.10L226.45 292.63L226.45 292.18L226.46 291.74L226.46 291.31L226.47 290.90L226.48 290.50L226.48 290.11L226.49 289.73L226.50 289.36L226.50 289.00L226.51 288.66L226.51 288.31L226.52 287.98L226.53 287.66L226.53 287.34L226.54 287.03L226.55 286.72L226.56 286.14L226.57 285.57L226.58 285.03L226.59 284.51L226.61 284.01L226.62 283.52L226.63 283.06L226.64 282.60L226.66 282.17L226.67 281.74L226.68 281.33L226.69 280.93L226.71 280.54L226.72 280.17L226.73 279.80L226.74 279.44L226.76 279.09L226.77 278.75L226.78 278.42L226.79 278.09L226.81 277.78L226.82 277.47L226.83 277.17L226.86 276.58L226.88 276.02L226.90 275.48L226.93 274.96L226.95 274.46L226.98 273.98L227.00 273.51L227.03 273.06L227.05 272.63L227.08 272.21L227.10 271.80L227.13 271.40L227.15 271.01L227.18 270.64L227.20 270.27L227.23 269.92L227.25 269.57L227.28 269.23L227.30 268.90L227.33 268.58L227.35 268.27L227.38 267.96L227.40 267.66L227.45 267.08L227.50 266.52L227.55 265.99L227.60 265.47L227.65 264.98L227.70 264.50L227.75 264.04L227.80 263.60L227.85 263.17L227.90 262.75L227.95 262.35L228.00 261.95L228.05 261.57L228.10 261.20L228.15 260.84L228.19 260.49L228.24 260.15L228.29 259.82L228.34 259.50L228.39 259.18L228.44 258.87L228.54 258.28L228.64 257.71L228.74 257.16L228.84 256.64L228.94 256.14L229.04 255.66L229.14 255.19L229.24 254.75L229.34 254.31L229.44 253.90L229.53 253.49L229.63 253.10L229.73 252.73L229.83 252.36L229.93 252.00L230.03 251.66L230.13 251.32L230.23 251.00L230.33 250.68L230.43 250.37L230.63 249.78L230.82 249.22L231.02 248.68L231.22 248.17L231.42 247.69L231.62 247.22L231.82 246.78L232.02 246.35L232.21 245.94L232.41 245.55L232.61 245.17L232.81 244.81L233.01 244.46L233.21 244.13L233.40 243.80L233.60 243.49L233.80 243.19L234.20 242.63L234.59 242.10L234.99 241.61L235.39 241.15L235.79 240.72L236.18 240.32L236.58 239.95L236.98 239.61L237.37 239.29L238.17 238.71L238.96 238.22L239.75 237.80L240.55 237.46L242.14 236.96L243.72 236.70L245.31 236.67L246.90 236.85L248.49 237.25L249.28 237.54L250.07 237.88L250.87 238.28L251.66 238.75L252.46 239.28L252.85 239.57L253.25 239.88L253.65 240.21L254.04 240.55L254.44 240.92L254.84 241.31L255.23 241.73L255.63 242.17L256.03 242.63L256.42 243.12L256.82 243.64L257.22 244.19L257.62 244.78L257.81 245.08L258.01 245.40L258.21 245.72L258.41 246.06L258.61 246.40L258.81 246.76L259.00 247.13L259.20 247.51L259.40 247.91L259.60 248.32L259.80 248.74L260.00 249.18L260.19 249.63L260.39 250.11L260.59 250.60L260.79 251.11L260.99 251.65L261.19 252.20L261.39 252.79L261.48 253.09L261.58 253.40L261.68 253.71L261.78 254.04L261.88 254.37L261.98 254.71L262.08 255.06L262.18 255.42L262.28 255.78L262.38 256.16L262.48 256.55L262.58 256.95L262.68 257.37L262.77 257.80L262.87 258.24L262.97 258.69L263.07 259.16L263.17 259.65L263.27 260.16L263.37 260.68L263.47 261.23L263.57 261.80L263.67 262.39L263.72 262.69L263.77 263.01L263.82 263.33L263.87 263.66L263.92 263.99L263.97 264.34L264.02 264.69L264.06 265.05L264.11 265.42L264.16 265.80L264.21 266.20L264.26 266.60L264.31 267.02L264.36 267.44L264.41 267.89L264.46 268.34L264.51 268.82L264.56 269.31L264.61 269.81L264.66 270.34L264.71 270.88L264.76 271.45L264.81 272.05L264.83 272.35L264.86 272.67L264.88 272.99L264.91 273.31L264.93 273.65L264.96 273.99L264.98 274.34L265.01 274.71L265.03 275.08L265.06 275.46L265.08 275.85L265.11 276.25L265.13 276.67L265.16 277.10L265.18 277.54L265.21 278.00L265.23 278.47L265.26 278.96L265.28 279.46L265.31 279.99L265.33 280.53L265.35 281.10L265.38 281.69L265.39 282.00L265.40 282.31L265.42 282.63L265.43 282.95L265.44 283.29L265.45 283.63L265.47 283.98L265.48 284.35L265.49 284.72L265.50 285.10L265.52 285.49L265.53 285.89L265.54 286.30L265.55 286.73L265.57 287.17L265.58 287.63L265.59 288.10L265.60 288.59L265.62 289.09L265.63 289.62L265.64 290.16L265.65 290.73L265.66 291.32L265.67 291.62L265.68 291.93L265.68 292.25L265.69 292.58L265.70 292.91L265.70 293.26L265.71 293.61L265.71 293.97L265.72 294.34L265.73 294.72L265.73 295.11L265.74 295.51L265.75 295.93L265.75 296.35L265.76 296.79L265.76 297.25L265.77 297.72L265.78 298.20L265.78 298.71L265.79 299.23L265.79 299.78L265.80 300.34L265.81 300.93L265.81 301.24L265.81 301.55L265.82 301.87L265.82 302.19L265.82 302.50L265.83 302.50L265.85 302.50L265.95 302.50L266.05 302.50L266.07 302.50L266.08 302.50L266.08 302.22L266.08 301.89L266.09 301.58L266.09 301.26L266.09 300.96L266.10 300.37L266.11 299.81L266.11 299.26L266.12 298.74L266.12 298.24L266.13 297.75L266.14 297.28L266.14 296.83L266.15 296.39L266.15 295.97L266.16 295.55L266.17 295.15L266.17 294.76L266.18 294.38L266.19 294.01L266.19 293.65L266.20 293.30L266.20 292.96L266.21 292.63L266.22 292.30L266.22 291.99L266.23 291.68L266.24 291.37L266.25 290.78L266.26 290.22L266.27 289.68L266.28 289.16L266.30 288.65L266.31 288.17L266.32 287.70L266.33 287.25L266.35 286.81L266.36 286.38L266.37 285.97L266.38 285.57L266.40 285.18L266.41 284.80L266.42 284.44L266.43 284.08L266.45 283.73L266.46 283.39L266.47 283.05L266.48 282.73L266.50 282.41L266.51 282.10L266.52 281.80L266.55 281.21L266.57 280.65L266.59 280.11L266.62 279.59L266.64 279.09L266.67 278.61L266.69 278.14L266.72 277.69L266.74 277.25L266.77 276.83L266.79 276.42L266.82 276.02L266.84 275.63L266.87 275.25L266.89 274.89L266.92 274.53L266.94 274.18L266.97 273.84L266.99 273.51L267.02 273.19L267.04 272.88L267.07 272.57L267.09 272.27L267.14 271.68L267.19 271.12L267.24 270.59L267.29 270.07L267.34 269.57L267.39 269.09L267.44 268.63L267.49 268.18L267.54 267.75L267.59 267.33L267.64 266.93L267.69 266.53L267.74 266.15L267.79 265.78L267.84 265.41L267.88 265.06L267.93 264.72L267.98 264.38L268.03 264.06L268.08 263.74L268.13 263.43L268.18 263.12L268.23 262.83L268.33 262.25L268.43 261.71L268.53 261.18L268.63 260.67L268.73 260.19L268.83 259.72L268.93 259.27L269.03 258.83L269.13 258.41L269.22 258.00L269.32 257.61L269.42 257.22L269.52 256.85L269.62 256.49L269.72 256.14L269.82 255.80L269.92 255.47L270.02 255.15L270.12 254.84L270.22 254.53L270.32 254.24L270.51 253.67L270.71 253.12L270.91 252.60L271.11 252.11L271.31 251.63L271.51 251.18L271.71 250.75L271.90 250.33L272.10 249.93L272.30 249.54L272.50 249.17L272.70 248.81L272.90 248.47L273.09 248.14L273.29 247.82L273.49 247.51L273.89 246.93L274.28 246.39L274.68 245.88L275.08 245.40L275.48 244.96L275.87 244.55L276.27 244.16L276.67 243.80L277.06 243.46L277.46 243.15L277.86 242.86L278.65 242.34L279.44 241.89L280.24 241.51L281.83 240.96L283.41 240.65L285.00 240.56L286.59 240.69L288.18 241.04L289.76 241.62L290.56 242.00L291.35 242.44L292.15 242.94L292.94 243.52L293.34 243.84L293.73 244.17L294.13 244.53L294.53 244.91L294.92 245.31L295.32 245.74L295.72 246.19L296.11 246.67L296.51 247.18L296.91 247.72L297.31 248.30L297.50 248.60L297.70 248.91L297.90 249.23L298.10 249.56L298.30 249.90L298.50 250.25L298.69 250.61L298.89 250.99L299.09 251.38L299.29 251.78L299.49 252.20L299.69 252.64L299.88 253.09L300.08 253.55L300.28 254.04L300.48 254.55L300.68 255.08L300.88 255.63L301.08 256.21L301.17 256.51L301.27 256.81L301.37 257.13L301.47 257.45L301.57 257.78L301.67 258.11L301.77 258.46L301.87 258.82L301.97 259.18L302.07 259.56L302.17 259.95L302.27 260.35L302.37 260.76L302.46 261.18L302.56 261.62L302.66 262.07L302.76 262.54L302.86 263.03L302.96 263.53L303.06 264.05L303.16 264.60L303.26 265.16L303.36 265.75L303.41 266.06L303.46 266.37L303.51 266.69L303.56 267.02L303.61 267.35L303.66 267.69L303.71 268.04L303.75 268.40L303.80 268.78L303.85 269.16L303.90 269.55L303.95 269.95L304.00 270.37L304.05 270.79L304.10 271.23L304.15 271.69L304.20 272.16L304.25 272.65L304.30 273.15L304.35 273.68L304.40 274.22L304.45 274.79L304.50 275.38L304.52 275.69L304.55 276.00L304.57 276.32L304.60 276.65L304.62 276.98L304.65 277.33L304.67 277.68L304.70 278.04L304.72 278.41L304.75 278.79L304.77 279.18L304.80 279.58L304.82 280.00L304.85 280.43L304.87 280.87L304.90 281.32L304.92 281.79L304.95 282.28L304.97 282.79L305.00 283.31L305.02 283.86L305.04 284.42L305.07 285.01L305.08 285.32L305.09 285.63L305.11 285.95L305.12 286.28L305.13 286.61L305.14 286.95L305.16 287.31L305.17 287.67L305.18 288.04L305.19 288.42L305.21 288.81L305.22 289.21L305.23 289.62L305.24 290.05L305.26 290.49L305.27 290.95L305.28 291.42L305.29 291.90L305.31 292.41L305.32 292.93L305.33 293.48L305.34 294.04L305.35 294.63L305.36 294.94L305.37 295.25L305.37 295.57L305.38 295.90L305.39 296.23L305.39 296.57L305.40 296.92L305.40 297.28L305.41 297.65L305.42 298.03L305.42 298.42L305.43 298.83L305.44 299.24L305.44 299.67L305.45 300.11L305.45 300.56L305.46 301.03L305.47 301.52L305.47 302.02L305.48 302.50L305.49 302.50L305.54 302.50L305.64 302.50L305.74 302.50L305.79 302.50L305.80 302.50L305.81 302.05L305.81 301.54L305.82 301.06L305.83 300.59L305.83 300.14L305.84 299.70L305.84 299.27L305.85 298.86L305.86 298.46L305.86 298.07L305.87 297.69L305.88 297.32L305.88 296.96L305.89 296.61L305.89 296.27L305.90 295.93L305.91 295.61L305.91 295.29L305.92 294.98L305.93 294.67L305.94 294.09L305.95 293.52L305.96 292.98L305.97 292.46L305.99 291.95L306.00 291.47L306.01 291.00L306.02 290.55L306.04 290.11L306.05 289.68L306.06 289.27L306.07 288.87L306.09 288.48L306.10 288.10L306.11 287.73L306.12 287.38L306.14 287.03L306.15 286.69L306.16 286.35L306.17 286.03L306.19 285.71L306.20 285.40L306.21 285.10L306.24 284.51L306.26 283.95L306.28 283.40L306.31 282.88L306.33 282.38L306.36 281.90L306.38 281.43L306.41 280.98L306.43 280.54L306.46 280.12L306.48 279.71L306.51 279.31L306.53 278.92L306.56 278.54L306.58 278.18L306.61 277.82L306.63 277.47L306.66 277.13L306.68 276.80L306.71 276.48L306.73 276.16L306.76 275.85L306.78 275.55L306.83 274.96L306.88 274.40L306.93 273.87L306.98 273.35L307.03 272.85L307.08 272.37L307.13 271.91L307.18 271.46L307.23 271.02L307.28 270.60L307.33 270.20L307.38 269.80L307.43 269.42L307.48 269.04L307.53 268.68L307.57 268.33L307.62 267.98L307.67 267.65L307.72 267.32L307.77 267.00L307.82 266.69L307.87 266.38L307.92 266.08L308.02 265.51L308.12 264.96L308.22 264.43L308.32 263.92L308.42 263.43L308.52 262.96L308.62 262.51L308.72 262.07L308.82 261.64L308.91 261.23L309.01 260.84L309.11 260.45L309.21 260.08L309.31 259.72L309.41 259.37L309.51 259.02L309.61 258.69L309.71 258.37L309.81 258.05L309.91 257.75L310.01 257.45L310.20 256.87L310.40 256.32L310.60 255.80L310.80 255.30L311.00 254.82L311.20 254.36L311.40 253.92L311.59 253.50L311.79 253.10L311.99 252.71L312.19 252.33L312.39 251.97L312.59 251.62L312.78 251.29L312.98 250.97L313.18 250.65L313.58 250.06L313.97 249.51L314.37 248.99L314.77 248.51L315.17 248.06L315.56 247.64L315.96 247.24L316.36 246.88L316.75 246.53L317.15 246.21L317.55 245.91L318.34 245.37L319.13 244.91L319.93 244.52L321.52 243.93L323.10 243.59L324.69 243.48L326.28 243.58L327.87 243.90L329.45 244.45L330.25 244.81L331.04 245.24L331.84 245.73L332.63 246.30L333.03 246.61L333.42 246.94L333.82 247.29L334.22 247.67L334.61 248.06L335.01 248.48L335.41 248.93L335.80 249.40L336.20 249.91L336.60 250.44L337.00 251.01L337.19 251.30L337.39 251.61L337.59 251.93L337.79 252.25L337.99 252.59L338.19 252.94L338.38 253.30L338.58 253.68L338.78 254.06L338.98 254.46L339.18 254.88L339.38 255.31L339.57 255.76L339.77 256.22L339.97 256.71L340.17 257.21L340.37 257.74L340.57 258.29L340.77 258.86L340.86 259.16L340.96 259.46L341.06 259.77L341.16 260.09L341.26 260.42L341.36 260.76L341.46 261.10L341.56 261.46L341.66 261.82L341.76 262.20L341.86 262.58L341.96 262.98L342.06 263.39L342.15 263.82L342.25 264.25L342.35 264.70L342.45 265.17L342.55 265.65L342.65 266.16L342.75 266.68L342.85 267.22L342.95 267.78L343.05 268.37L343.10 268.68L343.15 268.99L343.20 269.31L343.25 269.63L343.30 269.97L343.35 270.31L343.40 270.66L343.44 271.02L343.49 271.39L343.54 271.77L343.59 272.16L343.64 272.56L343.69 272.98L343.74 273.40L343.79 273.84L343.84 274.30L343.89 274.77L343.94 275.26L343.99 275.76L344.04 276.28L344.09 276.83L344.14 277.40L344.19 277.99L344.21 278.29L344.24 278.60L344.26 278.92L344.29 279.25L344.31 279.58L344.34 279.93L344.36 280.28L344.39 280.64L344.41 281.01L344.44 281.39L344.46 281.78L344.49 282.18L344.51 282.60L344.54 283.03L344.56 283.47L344.59 283.92L344.61 284.39L344.64 284.88L344.66 285.38L344.69 285.91L344.71 286.45L344.73 287.02L344.76 287.61L344.77 287.91L344.78 288.23L344.80 288.54L344.81 288.87L344.82 289.21L344.83 289.55L344.85 289.90L344.86 290.26L344.87 290.63L344.88 291.01L344.90 291.40L344.91 291.80L344.92 292.22L344.93 292.64L344.95 293.08L344.96 293.54L344.97 294.01L344.98 294.50L345.00 295.00L345.01 295.52L345.02 296.07L345.03 296.63L345.04 297.23L345.05 297.53L345.06 297.84L345.06 298.16L345.07 298.49L345.08 298.82L345.08 299.16L345.09 299.51L345.09 299.87L345.10 300.24L345.11 300.62L345.11 301.01L345.12 301.42L345.13 301.83L345.13 302.26L345.14 302.50L345.14 302.50L345.16 302.50L345.18 302.50L345.23 302.50L345.33 302.50L345.43 302.50L345.48 302.50L345.50 302.50L345.52 302.50L345.52 302.50L345.53 302.28L345.53 301.85L345.54 301.44L345.55 301.04L345.55 300.65L345.56 300.27L345.57 299.90L345.57 299.54L345.58 299.19L345.58 298.85L345.59 298.52L345.60 298.19L345.60 297.87L345.61 297.56L345.62 297.26L345.63 296.67L345.64 296.11L345.65 295.56L345.66 295.04L345.68 294.54L345.69 294.05L345.70 293.58L345.71 293.13L345.73 292.69L345.74 292.27L345.75 291.85L345.76 291.45L345.78 291.06L345.79 290.68L345.80 290.32L345.81 289.96L345.83 289.61L345.84 289.27L345.85 288.93L345.86 288.61L345.88 288.29L345.89 287.98L345.90 287.68L345.93 287.09L345.95 286.52L345.97 285.98L346.00 285.46L346.02 284.96L346.05 284.48L346.07 284.01L346.10 283.56L346.12 283.12L346.15 282.69L346.17 282.28L346.20 281.88L346.22 281.49L346.25 281.12L346.27 280.75L346.30 280.39L346.32 280.04L346.35 279.70L346.37 279.37L346.40 279.05L346.42 278.73L346.45 278.42L346.47 278.12L346.52 277.54L346.57 276.97L346.62 276.44L346.67 275.92L346.72 275.42L346.77 274.94L346.82 274.47L346.87 274.02L346.92 273.59L346.97 273.17L347.02 272.76L347.07 272.36L347.12 271.98L347.17 271.60L347.22 271.24L347.26 270.89L347.31 270.54L347.36 270.21L347.41 269.88L347.46 269.56L347.51 269.24L347.56 268.94L347.61 268.64L347.71 268.06L347.81 267.51L347.91 266.98L348.01 266.47L348.11 265.98L348.21 265.51L348.31 265.05L348.41 264.61L348.51 264.19L348.60 263.78L348.70 263.38L348.80 262.99L348.90 262.62L349.00 262.25L349.10 261.90L349.20 261.56L349.30 261.23L349.40 260.90L349.50 260.58L349.60 260.28L349.70 259.98L349.89 259.40L350.09 258.85L350.29 258.32L350.49 257.82L350.69 257.34L350.89 256.88L351.09 256.43L351.28 256.01L351.48 255.60L351.68 255.21L351.88 254.83L352.08 254.47L352.28 254.12L352.47 253.78L352.67 253.46L352.87 253.14L353.27 252.54L353.66 251.99L354.06 251.47L354.46 250.98L354.86 250.52L355.25 250.10L355.65 249.70L356.05 249.32L356.44 248.97L356.84 248.65L357.24 248.34L358.03 247.79L358.82 247.32L359.62 246.92L360.41 246.59L361.21 246.32L362.79 245.96L364.38 245.82L365.97 245.91L367.56 246.21L369.14 246.74L369.94 247.10L370.73 247.52L371.53 248.00L372.32 248.56L372.72 248.87L373.11 249.19L373.51 249.54L373.91 249.91L374.30 250.30L374.70 250.72L375.10 251.16L375.49 251.63L375.89 252.13L376.29 252.66L376.69 253.22L376.88 253.52L377.08 253.82L377.28 254.14L377.48 254.46L377.68 254.80L377.88 255.15L378.07 255.50L378.27 255.88L378.47 256.26L378.67 256.66L378.87 257.07L379.07 257.50L379.26 257.95L379.46 258.41L379.66 258.89L379.86 259.40L380.06 259.92L380.26 260.47L380.46 261.04L380.65 261.64L380.75 261.95L380.85 262.27L380.95 262.60L381.05 262.93L381.15 263.28L381.25 263.63L381.35 263.99L381.45 264.37L381.55 264.75L381.65 265.15L381.75 265.56L381.84 265.98L381.94 266.42L382.04 266.87L382.14 267.33L382.24 267.82L382.34 268.32L382.44 268.84L382.54 269.38L382.64 269.94L382.74 270.53L382.79 270.83L382.84 271.14L382.89 271.46L382.94 271.79L382.99 272.12L383.04 272.46L383.09 272.81L383.13 273.17L383.18 273.54L383.23 273.92L383.28 274.31L383.33 274.71L383.38 275.13L383.43 275.55L383.48 275.99L383.53 276.45L383.58 276.92L383.63 277.40L383.68 277.91L383.73 278.43L383.78 278.98L383.83 279.54L383.88 280.13L383.90 280.44L383.93 280.75L383.95 281.07L383.98 281.39L384.00 281.73L384.03 282.07L384.05 282.42L384.08 282.78L384.10 283.15L384.13 283.53L384.15 283.92L384.18 284.33L384.20 284.74L384.23 285.17L384.25 285.61L384.28 286.06L384.30 286.53L384.33 287.02L384.35 287.53L384.38 288.05L384.40 288.59L384.42 289.16L384.45 289.75L384.46 290.05L384.47 290.37L384.49 290.69L384.50 291.01L384.51 291.35L384.52 291.69L384.54 292.04L384.55 292.40L384.56 292.77L384.57 293.15L384.59 293.54L384.60 293.94L384.61 294.36L384.62 294.78L384.64 295.22L384.65 295.68L384.66 296.15L384.67 296.64L384.69 297.14L384.70 297.66L384.71 298.21L384.72 298.77L384.73 299.36L384.74 299.67L384.75 299.98L384.75 300.30L384.76 300.62L384.77 300.96L384.77 301.30L384.78 301.65L384.78 302.01L384.79 302.38L384.80 302.50L384.82 302.50L385.02 302.50L385.22 302.50L385.24 302.50L385.25 302.40L385.26 302.04L385.26 301.68L385.27 301.33L385.27 300.98L385.28 300.65L385.29 300.32L385.29 300.01L385.30 299.70L385.31 299.39L385.32 298.80L385.33 298.24L385.34 297.70L385.35 297.17L385.37 296.67L385.38 296.18L385.39 295.72L385.40 295.26L385.42 294.82L385.43 294.40L385.44 293.98L385.45 293.58L385.47 293.19L385.48 292.82L385.49 292.45L385.50 292.09L385.52 291.74L385.53 291.40L385.54 291.06L385.55 290.74L385.57 290.42L385.58 290.11L385.59 289.81L385.62 289.22L385.64 288.65L385.66 288.11L385.69 287.59L385.71 287.09L385.74 286.61L385.76 286.14L385.79 285.68L385.81 285.25L385.84 284.82L385.86 284.41L385.89 284.01L385.91 283.62L385.94 283.24L385.96 282.88L385.99 282.52L386.01 282.17L386.04 281.83L386.06 281.50L386.09 281.17L386.11 280.86L386.14 280.55L386.16 280.25L386.21 279.66L386.26 279.10L386.31 278.56L386.36 278.04L386.41 277.54L386.46 277.06L386.51 276.59L386.56 276.15L386.61 275.71L386.66 275.29L386.71 274.88L386.76 274.48L386.81 274.10L386.86 273.72L386.91 273.36L386.95 273.00L387.00 272.66L387.05 272.32L387.10 271.99L387.15 271.67L387.20 271.36L387.25 271.05L387.30 270.76L387.40 270.18L387.50 269.62L387.60 269.09L387.70 268.58L387.80 268.09L387.90 267.62L388.00 267.16L388.10 266.72L388.20 266.29L388.29 265.88L388.39 265.48L388.49 265.10L388.59 264.72L388.69 264.36L388.79 264.00L388.89 263.66L388.99 263.32L389.09 263.00L389.19 262.68L389.29 262.37L389.39 262.07L389.58 261.49L389.78 260.94L389.98 260.41L390.18 259.91L390.38 259.42L390.58 258.96L390.78 258.52L390.97 258.09L391.17 257.68L391.37 257.29L391.57 256.91L391.77 256.54L391.97 256.19L392.16 255.85L392.36 255.53L392.56 255.21L392.76 254.90L392.96 254.61L393.35 254.05L393.75 253.52L394.15 253.03L394.55 252.57L394.94 252.14L395.34 251.74L395.74 251.36L396.13 251.01L396.53 250.68L396.93 250.37L397.72 249.82L398.51 249.34L399.31 248.93L400.10 248.59L400.90 248.32L402.48 247.94L404.07 247.80L405.66 247.87L407.25 248.16L408.83 248.68L409.63 249.03L410.42 249.44L411.22 249.92L412.01 250.47L412.41 250.78L412.80 251.10L413.20 251.44L413.60 251.81L413.99 252.20L414.39 252.61L414.79 253.05L415.18 253.52L415.58 254.02L415.98 254.54L416.38 255.10L416.77 255.70L416.97 256.02L417.17 256.34L417.37 256.67L417.57 257.02L417.76 257.38L417.96 257.75L418.16 258.13L418.36 258.53L418.56 258.94L418.76 259.37L418.95 259.81L419.15 260.27L419.35 260.75L419.55 261.26L419.75 261.78L419.95 262.32L420.15 262.89L420.34 263.49L420.44 263.80L420.54 264.12L420.64 264.45L420.74 264.78L420.84 265.13L420.94 265.48L421.04 265.84L421.14 266.22L421.24 266.60L421.34 267.00L421.44 267.40L421.53 267.83L421.63 268.26L421.73 268.71L421.83 269.18L421.93 269.66L422.03 270.16L422.13 270.68L422.23 271.22L422.33 271.78L422.43 272.37L422.48 272.67L422.53 272.98L422.58 273.30L422.63 273.63L422.68 273.96L422.73 274.30L422.78 274.65L422.82 275.01L422.87 275.38L422.92 275.76L422.97 276.15L423.02 276.55L423.07 276.96L423.12 277.39L423.17 277.83L423.22 278.28L423.27 278.75L423.32 279.24L423.37 279.74L423.42 280.27L423.47 280.81L423.52 281.37L423.57 281.96L423.59 282.27L423.62 282.58L423.64 282.90L423.67 283.23L423.69 283.56L423.72 283.90L423.74 284.25L423.77 284.61L423.79 284.98L423.82 285.36L423.84 285.75L423.87 286.16L423.89 286.57L423.92 287.00L423.94 287.44L423.97 287.89L423.99 288.36L424.02 288.85L424.04 289.35L424.07 289.88L424.09 290.42L424.11 290.99L424.14 291.58L424.15 291.88L424.16 292.19L424.18 292.51L424.19 292.84L424.20 293.17L424.21 293.52L424.23 293.87L424.24 294.23L424.25 294.60L424.26 294.98L424.28 295.37L424.29 295.77L424.30 296.18L424.31 296.61L424.33 297.05L424.34 297.51L424.35 297.98L424.36 298.46L424.38 298.97L424.39 299.49L424.40 300.03L424.41 300.60L424.42 301.19L424.43 301.49L424.44 301.81L424.44 302.12L424.45 302.45L424.46 302.50L424.46 302.50L424.51 302.50L424.71 302.50L424.91 302.50L424.96 302.50L424.96 302.50L424.97 302.47L424.98 302.15L424.98 301.83L424.99 301.52L425.00 301.21L425.01 300.62L425.02 300.06L425.03 299.52L425.04 299.00L425.06 298.49L425.07 298.01L425.08 297.54L425.09 297.08L425.11 296.64L425.12 296.22L425.13 295.81L425.14 295.41L425.16 295.02L425.17 294.64L425.18 294.27L425.19 293.91L425.21 293.56L425.22 293.22L425.23 292.88L425.24 292.56L425.26 292.24L425.27 291.93L425.28 291.63L425.31 291.04L425.33 290.47L425.35 289.93L425.38 289.41L425.40 288.91L425.43 288.42L425.45 287.96L425.48 287.50L425.50 287.07L425.53 286.64L425.55 286.23L425.58 285.83L425.60 285.44L425.63 285.06L425.65 284.69L425.68 284.34L425.70 283.99L425.73 283.65L425.75 283.32L425.78 282.99L425.80 282.67L425.83 282.37L425.85 282.06L425.90 281.48L425.95 280.91L426.00 280.38L426.05 279.86L426.10 279.36L426.15 278.87L426.20 278.41L426.25 277.96L426.30 277.52L426.35 277.10L426.40 276.69L426.45 276.30L426.50 275.91L426.55 275.54L426.60 275.17L426.64 274.82L426.69 274.47L426.74 274.13L426.79 273.80L426.84 273.48L426.89 273.17L426.94 272.86L426.99 272.56L427.09 271.99L427.19 271.43L427.29 270.90L427.39 270.39L427.49 269.90L427.59 269.42L427.69 268.97L427.79 268.52L427.89 268.10L427.98 267.69L428.08 267.29L428.18 266.90L428.28 266.52L428.38 266.16L428.48 265.80L428.58 265.46L428.68 265.12L428.78 264.80L428.88 264.48L428.98 264.17L429.08 263.87L429.27 263.29L429.47 262.73L429.67 262.20L429.87 261.70L430.07 261.21L430.27 260.75L430.47 260.30L430.66 259.88L430.86 259.47L431.06 259.07L431.26 258.69L431.46 258.32L431.66 257.97L431.85 257.63L432.05 257.30L432.25 256.98L432.45 256.68L432.65 256.38L433.04 255.82L433.44 255.29L433.84 254.80L434.24 254.34L434.63 253.90L435.03 253.50L435.43 253.12L435.82 252.76L436.22 252.43L436.62 252.12L437.41 251.56L438.20 251.08L439.00 250.67L439.79 250.32L440.59 250.04L442.17 249.66L443.76 249.50L445.35 249.57L446.94 249.85L448.52 250.36L449.32 250.71L450.11 251.11L450.91 251.59L451.70 252.14L452.10 252.44L452.49 252.76L452.89 253.10L453.29 253.46L453.68 253.85L454.08 254.26L454.48 254.70L454.87 255.17L455.27 255.66L455.67 256.18L456.07 256.74L456.46 257.34L456.66 257.65L456.86 257.97L457.06 258.31L457.26 258.65L457.45 259.01L457.65 259.38L457.85 259.76L458.05 260.16L458.25 260.57L458.45 260.99L458.64 261.44L458.84 261.90L459.04 262.38L459.24 262.88L459.44 263.40L459.64 263.94L459.84 264.51L460.03 265.11L460.13 265.42L460.23 265.74L460.33 266.06L460.43 266.40L460.53 266.74L460.63 267.09L460.73 267.46L460.83 267.83L460.93 268.21L461.03 268.61L461.13 269.02L461.22 269.44L461.32 269.87L461.42 270.32L461.52 270.79L461.62 271.27L461.72 271.77L461.82 272.29L461.92 272.83L462.02 273.39L462.12 273.98L462.17 274.28L462.22 274.59L462.27 274.91L462.32 275.23L462.37 275.56L462.42 275.91L462.47 276.26L462.51 276.61L462.56 276.98L462.61 277.36L462.66 277.75L462.71 278.15L462.76 278.57L462.81 278.99L462.86 279.43L462.91 279.89L462.96 280.35L463.01 280.84L463.06 281.34L463.11 281.87L463.16 282.41L463.21 282.98L463.26 283.57L463.28 283.87L463.31 284.18L463.33 284.50L463.36 284.83L463.38 285.16L463.41 285.50L463.43 285.85L463.46 286.21L463.48 286.58L463.51 286.96L463.53 287.35L463.56 287.76L463.58 288.17L463.61 288.60L463.63 289.04L463.66 289.49L463.68 289.96L463.71 290.45L463.73 290.95L463.76 291.48L463.78 292.02L463.80 292.59L463.83 293.18L463.84 293.48L463.85 293.79L463.87 294.11L463.88 294.44L463.89 294.77L463.90 295.11L463.92 295.47L463.93 295.83L463.94 296.20L463.95 296.58L463.97 296.97L463.98 297.37L463.99 297.78L464.00 298.21L464.02 298.65L464.03 299.10L464.04 299.57L464.05 300.06L464.07 300.56L464.08 301.09L464.09 301.63L464.10 302.20L464.11 302.50L464.13 302.50L464.15 302.50L464.20 302.50L464.40 302.50" fill="none" stroke="#00f" stroke-width="1.05" stroke-linejoin="round"/>
<rect x="67.1" y="266.5" width="3.6" height="3.6" fill="#00f"/>
<rect x="71.0" y="259.1" width="3.6" height="3.6" fill="#00f"/>
<rect x="75.1" y="266.2" width="3.6" height="3.6" fill="#00f"/>
<rect x="79.0" y="257.6" width="3.6" height="3.6" fill="#00f"/>
<rect x="83.2" y="250.8" width="3.6" height="3.6" fill="#00f"/>
<rect x="87.0" y="249.3" width="3.6" height="3.6" fill="#00f"/>
<rect x="90.9" y="243.6" width="3.6" height="3.6" fill="#00f"/>
<rect x="94.8" y="245.7" width="3.6" height="3.6" fill="#00f"/>
<rect x="98.9" y="240.4" width="3.6" height="3.6" fill="#00f"/>
<rect x="102.8" y="243.3" width="3.6" height="3.6" fill="#00f"/>
<rect x="106.7" y="248.7" width="3.6" height="3.6" fill="#00f"/>
<rect x="113.8" y="242.7" width="3.6" height="3.6" fill="#00f"/>
<rect x="117.7" y="232.3" width="3.6" height="3.6" fill="#00f"/>
<rect x="121.5" y="226.4" width="3.6" height="3.6" fill="#00f"/>
<rect x="125.7" y="223.4" width="3.6" height="3.6" fill="#00f"/>
<rect x="129.5" y="219.8" width="3.6" height="3.6" fill="#00f"/>
<rect x="133.4" y="216.6" width="3.6" height="3.6" fill="#00f"/>
<rect x="137.3" y="215.7" width="3.6" height="3.6" fill="#00f"/>
<rect x="141.4" y="215.4" width="3.6" height="3.6" fill="#00f"/>
<rect x="145.3" y="215.1" width="3.6" height="3.6" fill="#00f"/>
<rect x="149.2" y="215.1" width="3.6" height="3.6" fill="#00f"/>
<rect x="153.3" y="214.5" width="3.6" height="3.6" fill="#00f"/>
<rect x="157.2" y="213.9" width="3.6" height="3.6" fill="#00f"/>
<rect x="161.1" y="215.1" width="3.6" height="3.6" fill="#00f"/>
<rect x="164.9" y="217.2" width="3.6" height="3.6" fill="#00f"/>
<rect x="168.8" y="218.7" width="3.6" height="3.6" fill="#00f"/>
<rect x="172.6" y="221.9" width="3.6" height="3.6" fill="#00f"/>
<rect x="176.5" y="224.9" width="3.6" height="3.6" fill="#00f"/>
<rect x="180.1" y="232.9" width="3.6" height="3.6" fill="#00f"/>
<rect x="183.9" y="241.0" width="3.6" height="3.6" fill="#00f"/>
<rect x="187.8" y="251.7" width="3.6" height="3.6" fill="#00f"/>
<rect x="191.7" y="240.4" width="3.6" height="3.6" fill="#00f"/>
<rect x="195.3" y="236.5" width="3.6" height="3.6" fill="#00f"/>
<rect x="199.1" y="231.7" width="3.6" height="3.6" fill="#00f"/>
<rect x="203.0" y="230.5" width="3.6" height="3.6" fill="#00f"/>
<rect x="206.9" y="230.5" width="3.6" height="3.6" fill="#00f"/>
<rect x="210.7" y="232.3" width="3.6" height="3.6" fill="#00f"/>
<rect x="214.6" y="237.4" width="3.6" height="3.6" fill="#00f"/>
<rect x="218.5" y="236.8" width="3.6" height="3.6" fill="#00f"/>
<rect x="222.3" y="259.7" width="3.6" height="3.6" fill="#00f"/>
<rect x="225.9" y="274.8" width="3.6" height="3.6" fill="#00f"/>
<rect x="230.1" y="248.1" width="3.6" height="3.6" fill="#00f"/>
<rect x="233.9" y="239.5" width="3.6" height="3.6" fill="#00f"/>
<rect x="237.8" y="238.0" width="3.6" height="3.6" fill="#00f"/>
<rect x="241.7" y="237.1" width="3.6" height="3.6" fill="#00f"/>
<rect x="245.8" y="236.8" width="3.6" height="3.6" fill="#00f"/>
<rect x="249.7" y="238.0" width="3.6" height="3.6" fill="#00f"/>
<rect x="253.5" y="241.0" width="3.6" height="3.6" fill="#00f"/>
<rect x="257.4" y="241.0" width="3.6" height="3.6" fill="#00f"/>
<rect x="261.3" y="256.7" width="3.6" height="3.6" fill="#00f"/>
<rect x="265.1" y="261.2" width="3.6" height="3.6" fill="#00f"/>
<rect x="269.0" y="259.4" width="3.6" height="3.6" fill="#00f"/>
<rect x="272.9" y="247.2" width="3.6" height="3.6" fill="#00f"/>
<rect x="276.7" y="242.4" width="3.6" height="3.6" fill="#00f"/>
<rect x="280.9" y="241.0" width="3.6" height="3.6" fill="#00f"/>
<rect x="284.8" y="243.3" width="3.6" height="3.6" fill="#00f"/>
<rect x="288.6" y="240.1" width="3.6" height="3.6" fill="#00f"/>
<rect x="292.5" y="241.8" width="3.6" height="3.6" fill="#00f"/>
<rect x="296.4" y="246.3" width="3.6" height="3.6" fill="#00f"/>
<rect x="300.2" y="252.5" width="3.6" height="3.6" fill="#00f"/>
<rect x="304.1" y="283.8" width="3.6" height="3.6" fill="#00f"/>
<rect x="307.9" y="256.4" width="3.6" height="3.6" fill="#00f"/>
<rect x="312.1" y="253.7" width="3.6" height="3.6" fill="#00f"/>
<rect x="316.0" y="246.9" width="3.6" height="3.6" fill="#00f"/>
<rect x="319.8" y="244.2" width="3.6" height="3.6" fill="#00f"/>
<rect x="323.7" y="242.4" width="3.6" height="3.6" fill="#00f"/>
<rect x="327.6" y="242.7" width="3.6" height="3.6" fill="#00f"/>
<rect x="331.4" y="247.2" width="3.6" height="3.6" fill="#00f"/>
<rect x="331.2" y="247.2" width="3.6" height="3.6" fill="#00f"/>
<rect x="335.0" y="250.2" width="3.6" height="3.6" fill="#00f"/>
<rect x="338.9" y="258.8" width="3.6" height="3.6" fill="#00f"/>
<rect x="342.8" y="265.0" width="3.6" height="3.6" fill="#00f"/>
<rect x="346.6" y="263.5" width="3.6" height="3.6" fill="#00f"/>
<rect x="350.5" y="254.3" width="3.6" height="3.6" fill="#00f"/>
<rect x="354.4" y="245.1" width="3.6" height="3.6" fill="#00f"/>
<rect x="358.2" y="245.1" width="3.6" height="3.6" fill="#00f"/>
<rect x="362.1" y="247.2" width="3.6" height="3.6" fill="#00f"/>
<rect x="366.0" y="243.9" width="3.6" height="3.6" fill="#00f"/>
<rect x="369.8" y="242.7" width="3.6" height="3.6" fill="#00f"/>
<rect x="373.7" y="257.0" width="3.6" height="3.6" fill="#00f"/>
<rect x="377.5" y="252.0" width="3.6" height="3.6" fill="#00f"/>
<rect x="381.4" y="265.6" width="3.6" height="3.6" fill="#00f"/>
<rect x="385.3" y="261.5" width="3.6" height="3.6" fill="#00f"/>
<rect x="389.1" y="253.4" width="3.6" height="3.6" fill="#00f"/>
<rect x="393.0" y="254.6" width="3.6" height="3.6" fill="#00f"/>
<rect x="396.9" y="257.9" width="3.6" height="3.6" fill="#00f"/>
<rect x="400.7" y="244.2" width="3.6" height="3.6" fill="#00f"/>
<rect x="404.6" y="242.4" width="3.6" height="3.6" fill="#00f"/>
<rect x="408.5" y="249.9" width="3.6" height="3.6" fill="#00f"/>
<rect x="412.3" y="260.3" width="3.6" height="3.6" fill="#00f"/>
<rect x="416.2" y="265.9" width="3.6" height="3.6" fill="#00f"/>
<rect x="420.1" y="277.8" width="3.6" height="3.6" fill="#00f"/>
<rect x="423.9" y="259.1" width="3.6" height="3.6" fill="#00f"/>
<rect x="427.8" y="256.1" width="3.6" height="3.6" fill="#00f"/>
<rect x="431.6" y="248.7" width="3.6" height="3.6" fill="#00f"/>
<rect x="435.5" y="252.8" width="3.6" height="3.6" fill="#00f"/>
<rect x="439.4" y="244.2" width="3.6" height="3.6" fill="#00f"/>
<rect x="443.2" y="253.7" width="3.6" height="3.6" fill="#00f"/>
<rect x="447.1" y="257.6" width="3.6" height="3.6" fill="#00f"/>
<rect x="451.0" y="258.5" width="3.6" height="3.6" fill="#00f"/>
<rect x="455.1" y="264.4" width="3.6" height="3.6" fill="#00f"/>
<rect x="459.0" y="264.4" width="3.6" height="3.6" fill="#00f"/>
<rect x="462.9" y="266.5" width="3.6" height="3.6" fill="#00f"/>
<text x="55.8" y="240.40" text-anchor="end" class="tl">10</text>
<text x="61.3" y="231.95" text-anchor="end" class="sup">0</text>
<text x="52.4" y="272.30" text-anchor="end" class="tl">10</text>
<text x="61.3" y="263.85" text-anchor="end" class="sup">-2</text>
<text x="52.4" y="304.20" text-anchor="end" class="tl">10</text>
<text x="61.3" y="295.75" text-anchor="end" class="sup">-4</text>
<g class="ti">
<text x="244.7" y="225.5" textLength="11.2" lengthAdjust="spacingAndGlyphs">ψ</text>
<text x="259.5" y="225.5" textLength="8.4" lengthAdjust="spacingAndGlyphs">=</text>
<text x="272.0" y="225.5">4</text>
<text x="279.8" y="225.5" textLength="9.2" lengthAdjust="spacingAndGlyphs">π</text>
</g>
<text x="67.50" y="315.2" text-anchor="middle" class="tl">0</text>
<text x="146.88" y="315.2" text-anchor="middle" class="tl">1</text>
<text x="226.26" y="315.2" text-anchor="middle" class="tl">2</text>
<text x="305.64" y="315.2" text-anchor="middle" class="tl">3</text>
<text x="385.02" y="315.2" text-anchor="middle" class="tl">4</text>
<text x="464.40" y="315.2" text-anchor="middle" class="tl">5</text>
<text x="170.5" y="339" class="ax">Normalized Frequency <tspan dx="0.5">[</tspan><tspan font-style="italic">f</tspan><tspan font-style="italic" font-size="11" dy="3">m</tspan><tspan dy="-3">/</tspan><tspan font-style="italic">f</tspan><tspan font-style="italic" font-size="11" dy="3">R</tspan><tspan dy="-3">]</tspan></text>
<g transform="translate(18.4 255.4) rotate(-90)">
<text x="0" y="0" class="ax">Transfer Function</text>
<g class="mm">
<text x="126.2" y="0.8" font-style="italic">T</text>
<text x="127.6" y="-8.6" font-size="20">~</text>
<text x="137.2" y="6.9" font-style="italic" font-size="10.5">zz</text>
<text x="146.4" y="0.8">(</text>
<text x="154.0" y="0.8" style="font-family:'Liberation Serif',serif;font-size:17px">ψ</text>
<text x="166.3" y="0.8">,</text>
<text x="175.2" y="0.8" font-style="italic">f</text>
<text x="179.3" y="6.9" font-style="italic" font-size="10.5">m</text>
<text x="191.0" y="0.8">)</text>
</g></g>
</svg>
</body></html>
